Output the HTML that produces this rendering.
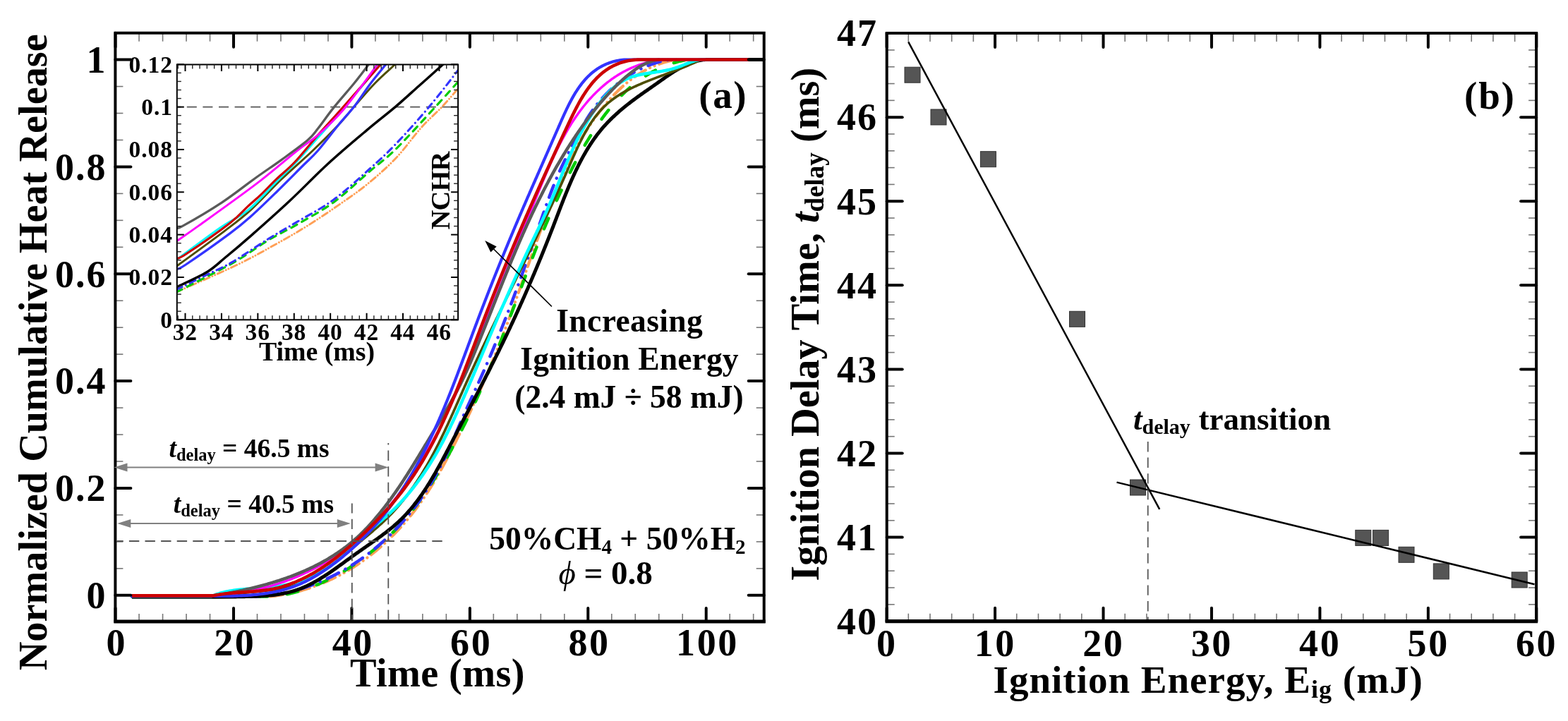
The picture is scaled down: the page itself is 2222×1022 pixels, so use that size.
<!DOCTYPE html>
<html><head><meta charset="utf-8"><title>Figure</title><style>html,body{margin:0;padding:0;background:#fff;overflow:hidden}svg{display:block}</style></head><body>
<svg width="2222" height="1022" viewBox="0 0 2222 1022" font-family="Liberation Serif, Times New Roman, serif" font-weight="bold">
<rect width="2222" height="1022" fill="#fff"/>
<g fill="none" stroke-linejoin="round">
<path d="M187,845.5 L330,845.5 L332.04,845.5 L334.09,845.5 L336.13,845.5 L338.17,845.5 L340.21,845.5 L342.25,845.5 L344.28,845.5 L346.32,845.5 L348.35,845.5 L350.38,845.5 L352.41,845.5 L354.44,845.5 L356.46,845.5 L358.49,845.5 L360.51,845.5 L362.53,845.5 L364.54,845.5 L366.56,845.5 L368.57,845.5 L370.58,845.5 L372.59,845.5 L374.59,845.5 L376.59,845.5 L378.59,845.5 L380.59,845.5 L382.58,845.49 L384.58,845.28 L386.56,845.05 L388.55,844.81 L390.53,844.55 L392.51,844.28 L394.49,843.99 L396.46,843.69 L398.43,843.37 L400.4,843.04 L402.36,842.69 L404.32,842.33 L406.28,841.95 L408.23,841.56 L410.18,841.16 L412.13,840.74 L414.07,840.3 L416.01,839.85 L417.94,839.39 L419.87,838.91 L421.8,838.42 L423.72,837.91 L425.64,837.39 L427.56,836.86 L429.47,836.31 L431.37,835.74 L433.28,835.17 L435.17,834.58 L437.07,833.97 L438.96,833.35 L440.84,832.72 L442.72,832.07 L444.6,831.41 L446.47,830.74 L448.33,830.05 L450.19,829.35 L452.05,828.64 L453.9,827.91 L455.75,827.17 L457.59,826.42 L459.43,825.65 L461.26,824.87 L463.08,824.07 L464.9,823.27 L466.72,822.45 L468.53,821.61 L470.33,820.77 L472.13,819.91 L473.93,819.04 L475.71,818.15 L477.49,817.26 L479.27,816.34 L481.04,815.42 L482.81,814.49 L484.56,813.54 L486.32,812.58 L488.06,811.6 L489.8,810.62 L491.54,809.62 L493.27,808.61 L494.99,807.59 L496.7,806.55 L498.41,805.51 L500.12,804.45 L501.81,803.38 L503.5,802.3 L505.19,801.2 L506.86,800.09 L508.53,798.98 L510.19,797.84 L511.85,796.7 L513.5,795.55 L515.14,794.38 L516.78,793.21 L518.4,792.02 L520.02,790.82 L521.64,789.61 L523.24,788.39 L524.84,787.16 L526.43,785.92 L528.02,784.67 L529.59,783.41 L531.16,782.14 L532.73,780.85 L534.28,779.56 L535.82,778.26 L537.36,776.95 L538.89,775.63 L540.41,774.3 L541.93,772.96 L543.44,771.61 L544.93,770.25 L546.42,768.89 L547.91,767.51 L549.38,766.13 L550.84,764.74 L552.3,763.34 L553.75,761.93 L555.19,760.51 L556.62,759.09 L558.04,757.66 L559.46,756.22 L560.86,754.77 L562.26,753.32 L563.64,751.85 L565.02,750.38 L566.39,748.91 L567.75,747.43 L569.1,745.94 L570.45,744.44 L571.78,742.94 L573.1,741.43 L574.42,739.91 L575.72,738.39 L577.02,736.86 L578.3,735.33 L579.58,733.79 L580.85,732.24 L582.1,730.69 L583.35,729.14 L584.59,727.57 L585.82,726.01 L587.03,724.44 L588.24,722.86 L589.44,721.28 L590.63,719.69 L591.81,718.1 L592.98,716.51 L594.14,714.91 L595.29,713.3 L596.43,711.69 L597.56,710.08 L598.69,708.46 L599.81,706.84 L600.92,705.21 L602.02,703.58 L603.11,701.94 L604.19,700.3 L605.27,698.66 L606.34,697.01 L607.4,695.36 L608.46,693.7 L609.51,692.04 L610.55,690.37 L611.58,688.7 L612.61,687.03 L613.63,685.35 L614.65,683.67 L615.66,681.99 L616.66,680.3 L617.66,678.6 L618.65,676.91 L619.64,675.21 L620.62,673.5 L621.59,671.79 L622.56,670.08 L623.53,668.37 L624.49,666.65 L625.45,664.93 L626.4,663.2 L627.35,661.47 L628.29,659.74 L629.23,658.01 L630.17,656.27 L631.1,654.53 L632.03,652.78 L632.96,651.03 L633.88,649.28 L634.8,647.53 L635.72,645.77 L636.63,644.01 L637.54,642.24 L638.45,640.48 L639.36,638.71 L640.26,636.94 L641.17,635.16 L642.07,633.38 L642.97,631.6 L643.86,629.82 L644.76,628.03 L645.66,626.24 L646.55,624.45 L647.44,622.66 L648.34,620.86 L649.23,619.06 L650.12,617.26 L651,615.46 L651.89,613.65 L652.78,611.85 L653.66,610.04 L654.55,608.22 L655.43,606.41 L656.31,604.59 L657.19,602.77 L658.07,600.95 L658.95,599.13 L659.82,597.3 L660.7,595.48 L661.57,593.65 L662.44,591.82 L663.31,589.99 L664.18,588.15 L665.04,586.32 L665.91,584.48 L666.77,582.64 L667.63,580.8 L668.49,578.95 L669.35,577.11 L670.2,575.27 L671.05,573.42 L671.91,571.57 L672.76,569.72 L673.6,567.87 L674.45,566.02 L675.29,564.16 L676.14,562.31 L676.98,560.45 L677.82,558.59 L678.65,556.74 L679.48,554.88 L680.32,553.02 L681.15,551.16 L681.97,549.29 L682.8,547.43 L683.62,545.57 L684.44,543.7 L685.26,541.83 L686.07,539.97 L686.89,538.1 L687.7,536.23 L688.51,534.37 L689.31,532.5 L690.12,530.63 L690.92,528.76 L691.72,526.89 L692.51,525.02 L693.31,523.14 L694.1,521.27 L694.88,519.4 L695.67,517.53 L696.45,515.66 L697.23,513.78 L698.01,511.91 L698.78,510.04 L699.55,508.16 L700.32,506.29 L701.09,504.42 L701.85,502.55 L702.61,500.67 L703.37,498.8 L704.12,496.93 L704.87,495.06 L705.62,493.18 L706.36,491.31 L707.1,489.44 L707.84,487.57 L708.58,485.7 L709.31,483.83 L710.04,481.96 L710.76,480.09 L711.49,478.22 L712.21,476.35 L712.92,474.48 L713.64,472.61 L714.35,470.75 L715.06,468.88 L715.77,467.01 L716.47,465.14 L717.17,463.28 L717.87,461.41 L718.57,459.54 L719.27,457.68 L719.96,455.81 L720.65,453.94 L721.34,452.08 L722.03,450.21 L722.71,448.35 L723.4,446.48 L724.08,444.62 L724.76,442.75 L725.44,440.89 L726.12,439.02 L726.79,437.16 L727.46,435.29 L728.14,433.43 L728.81,431.56 L729.48,429.7 L730.15,427.83 L730.81,425.97 L731.48,424.11 L732.14,422.24 L732.81,420.38 L733.47,418.51 L734.13,416.65 L734.8,414.78 L735.46,412.92 L736.12,411.06 L736.77,409.19 L737.43,407.33 L738.09,405.46 L738.75,403.6 L739.41,401.73 L740.06,399.87 L740.72,398 L741.38,396.14 L742.03,394.27 L742.69,392.41 L743.34,390.54 L744,388.68 L744.66,386.81 L745.31,384.94 L745.97,383.08 L746.63,381.21 L747.28,379.34 L747.94,377.48 L748.6,375.61 L749.26,373.74 L749.91,371.88 L750.57,370.01 L751.23,368.14 L751.9,366.27 L752.56,364.4 L753.22,362.53 L753.88,360.67 L754.55,358.8 L755.21,356.93 L755.88,355.06 L756.55,353.19 L757.21,351.31 L757.88,349.44 L758.56,347.57 L759.23,345.7 L759.9,343.83 L760.58,341.95 L761.26,340.08 L761.93,338.21 L762.62,336.33 L763.3,334.46 L763.98,332.58 L764.67,330.71 L765.36,328.83 L766.05,326.96 L766.74,325.08 L767.43,323.2 L768.13,321.32 L768.83,319.44 L769.53,317.56 L770.23,315.69 L770.93,313.8 L771.64,311.92 L772.35,310.04 L773.07,308.16 L773.78,306.28 L774.5,304.4 L775.22,302.51 L775.94,300.63 L776.67,298.74 L777.4,296.86 L778.13,294.97 L778.87,293.08 L779.61,291.2 L780.35,289.31 L781.1,287.43 L781.85,285.54 L782.6,283.65 L783.36,281.77 L784.12,279.88 L784.88,278 L785.65,276.11 L786.42,274.23 L787.19,272.35 L787.97,270.47 L788.76,268.59 L789.55,266.71 L790.34,264.83 L791.14,262.96 L791.94,261.08 L792.75,259.21 L793.56,257.34 L794.37,255.47 L795.19,253.61 L796.02,251.74 L796.85,249.88 L797.69,248.02 L798.53,246.17 L799.37,244.31 L800.23,242.46 L801.08,240.61 L801.95,238.77 L802.81,236.93 L803.69,235.09 L804.57,233.25 L805.45,231.42 L806.34,229.59 L807.24,227.77 L808.15,225.94 L809.06,224.13 L809.97,222.31 L810.9,220.5 L811.82,218.7 L812.76,216.9 L813.7,215.1 L814.65,213.31 L815.61,211.52 L816.57,209.74 L817.54,207.96 L818.52,206.19 L819.5,204.42 L820.49,202.66 L821.49,200.91 L822.49,199.15 L823.51,197.41 L824.53,195.67 L825.55,193.93 L826.59,192.21 L827.63,190.48 L828.68,188.77 L829.74,187.06 L830.81,185.35 L831.89,183.66 L832.97,181.97 L834.06,180.28 L835.16,178.61 L836.27,176.94 L837.39,175.27 L838.51,173.62 L839.65,171.97 L840.79,170.33 L841.94,168.7 L843.1,167.07 L844.27,165.45 L845.45,163.84 L846.64,162.24 L847.84,160.64 L849.05,159.06 L850.26,157.48 L851.49,155.91 L852.72,154.35 L853.97,152.8 L855.22,151.25 L856.49,149.72 L857.76,148.19 L859.05,146.68 L860.34,145.17 L861.65,143.67 L862.96,142.18 L864.29,140.7 L865.62,139.23 L866.97,137.77 L868.33,136.32 L869.69,134.88 L871.07,133.45 L872.46,132.04 L873.86,130.63 L875.27,129.24 L876.69,127.86 L878.13,126.49 L879.57,125.13 L881.03,123.79 L882.5,122.46 L883.98,121.15 L885.47,119.86 L886.97,118.57 L888.49,117.31 L890.02,116.06 L891.56,114.83 L893.11,113.61 L894.67,112.41 L896.25,111.23 L897.84,110.07 L899.44,108.93 L901.05,107.8 L902.68,106.7 L904.32,105.62 L905.97,104.55 L907.64,103.51 L909.32,102.49 L911.01,101.49 L912.72,100.51 L914.44,99.56 L916.17,98.62 L917.92,97.72 L919.68,96.83 L921.45,95.97 L923.24,95.13 L925.04,94.32 L926.86,93.54 L928.69,92.78 L930.54,92.05 L932.4,91.34 L934.27,90.66 L936.16,90.01 L938.06,89.39 L939.98,88.79 L941.91,88.22 L943.86,87.69 L945.83,87.18 L947.8,86.7 L949.8,86.26 L951.81,85.84 L953.83,85.45 L955.87,85.1 L957.93,84.78 L960,84.5" stroke="#ff9f55" stroke-width="4.2" stroke-linecap="round" stroke-dasharray="18 7 0.1 7 0.1 7"/>
<path d="M187,845.5 L330,845.5 L332.06,845.5 L334.12,845.5 L336.18,845.5 L338.23,845.5 L340.28,845.5 L342.33,845.5 L344.38,845.5 L346.43,845.5 L348.47,845.5 L350.51,845.5 L352.55,845.5 L354.58,845.5 L356.61,845.5 L358.64,845.5 L360.67,845.5 L362.69,845.5 L364.72,845.5 L366.73,845.5 L368.75,845.5 L370.76,845.5 L372.77,845.5 L374.77,845.5 L376.78,845.5 L378.78,845.5 L380.77,845.5 L382.76,845.5 L384.75,845.5 L386.74,845.5 L388.72,845.47 L390.7,845.19 L392.67,844.9 L394.65,844.59 L396.61,844.26 L398.58,843.91 L400.54,843.55 L402.49,843.17 L404.45,842.77 L406.4,842.36 L408.34,841.93 L410.28,841.49 L412.22,841.02 L414.15,840.55 L416.08,840.05 L418,839.54 L419.92,839.02 L421.84,838.48 L423.75,837.92 L425.66,837.35 L427.56,836.76 L429.46,836.16 L431.35,835.54 L433.24,834.91 L435.13,834.26 L437.01,833.6 L438.88,832.92 L440.75,832.23 L442.62,831.53 L444.48,830.81 L446.33,830.07 L448.19,829.32 L450.03,828.56 L451.87,827.78 L453.71,826.99 L455.54,826.19 L457.36,825.37 L459.18,824.54 L461,823.7 L462.81,822.84 L464.61,821.97 L466.41,821.09 L468.2,820.19 L469.99,819.28 L471.77,818.36 L473.55,817.43 L475.32,816.48 L477.09,815.52 L478.85,814.55 L480.6,813.57 L482.35,812.57 L484.09,811.57 L485.83,810.55 L487.56,809.52 L489.28,808.47 L491,807.42 L492.71,806.36 L494.42,805.28 L496.11,804.19 L497.81,803.09 L499.49,801.99 L501.17,800.87 L502.85,799.73 L504.52,798.59 L506.18,797.44 L507.83,796.28 L509.48,795.11 L511.12,793.93 L512.75,792.73 L514.38,791.53 L516,790.32 L517.62,789.1 L519.22,787.87 L520.82,786.63 L522.42,785.38 L524,784.12 L525.58,782.85 L527.15,781.57 L528.72,780.29 L530.28,778.99 L531.83,777.69 L533.37,776.38 L534.91,775.05 L536.43,773.73 L537.95,772.39 L539.47,771.04 L540.97,769.69 L542.47,768.33 L543.96,766.96 L545.44,765.58 L546.92,764.2 L548.39,762.81 L549.85,761.41 L551.3,760 L552.74,758.59 L554.18,757.17 L555.6,755.74 L557.02,754.31 L558.43,752.86 L559.84,751.42 L561.23,749.96 L562.62,748.5 L564,747.04 L565.36,745.56 L566.73,744.08 L568.08,742.6 L569.42,741.11 L570.76,739.61 L572.09,738.11 L573.4,736.6 L574.71,735.09 L576.02,733.57 L577.31,732.05 L578.59,730.52 L579.87,728.99 L581.13,727.45 L582.39,725.91 L583.64,724.36 L584.87,722.81 L586.1,721.25 L587.33,719.69 L588.54,718.13 L589.74,716.56 L590.94,714.99 L592.12,713.41 L593.3,711.82 L594.47,710.24 L595.64,708.65 L596.79,707.05 L597.94,705.45 L599.08,703.85 L600.21,702.24 L601.34,700.63 L602.46,699.01 L603.57,697.39 L604.68,695.77 L605.77,694.14 L606.86,692.51 L607.95,690.88 L609.03,689.24 L610.1,687.59 L611.17,685.95 L612.23,684.3 L613.28,682.64 L614.33,680.98 L615.37,679.32 L616.41,677.66 L617.44,675.99 L618.47,674.31 L619.49,672.64 L620.51,670.96 L621.52,669.27 L622.53,667.59 L623.53,665.9 L624.53,664.2 L625.53,662.51 L626.52,660.8 L627.5,659.1 L628.48,657.39 L629.46,655.68 L630.44,653.97 L631.41,652.25 L632.37,650.53 L633.34,648.81 L634.3,647.08 L635.26,645.35 L636.21,643.62 L637.16,641.89 L638.11,640.15 L639.06,638.41 L640.01,636.66 L640.95,634.92 L641.89,633.17 L642.83,631.41 L643.76,629.66 L644.7,627.9 L645.63,626.14 L646.56,624.37 L647.49,622.61 L648.42,620.84 L649.34,619.07 L650.26,617.29 L651.19,615.51 L652.11,613.73 L653.02,611.95 L653.94,610.17 L654.85,608.38 L655.76,606.59 L656.66,604.8 L657.57,603.01 L658.47,601.21 L659.37,599.41 L660.26,597.61 L661.15,595.81 L662.04,594 L662.93,592.19 L663.81,590.38 L664.68,588.57 L665.56,586.76 L666.43,584.94 L667.3,583.13 L668.16,581.31 L669.02,579.48 L669.88,577.66 L670.73,575.83 L671.58,574.01 L672.43,572.18 L673.27,570.35 L674.11,568.51 L674.95,566.68 L675.78,564.84 L676.61,563.01 L677.44,561.17 L678.26,559.32 L679.09,557.48 L679.9,555.64 L680.72,553.79 L681.53,551.94 L682.34,550.1 L683.15,548.25 L683.96,546.39 L684.76,544.54 L685.56,542.69 L686.36,540.83 L687.15,538.97 L687.94,537.12 L688.73,535.26 L689.52,533.4 L690.3,531.53 L691.08,529.67 L691.86,527.81 L692.64,525.94 L693.41,524.08 L694.19,522.21 L694.96,520.34 L695.73,518.47 L696.49,516.6 L697.26,514.73 L698.02,512.86 L698.78,510.99 L699.54,509.12 L700.29,507.24 L701.05,505.37 L701.8,503.49 L702.55,501.62 L703.3,499.74 L704.05,497.86 L704.79,495.98 L705.53,494.11 L706.28,492.23 L707.02,490.35 L707.76,488.47 L708.49,486.59 L709.23,484.71 L709.96,482.83 L710.7,480.94 L711.43,479.06 L712.16,477.18 L712.89,475.3 L713.61,473.41 L714.34,471.53 L715.07,469.65 L715.79,467.76 L716.51,465.88 L717.24,464 L717.96,462.11 L718.68,460.23 L719.4,458.34 L720.12,456.46 L720.83,454.57 L721.55,452.69 L722.26,450.8 L722.98,448.92 L723.69,447.03 L724.41,445.15 L725.12,443.26 L725.83,441.38 L726.54,439.49 L727.26,437.61 L727.97,435.72 L728.68,433.84 L729.39,431.96 L730.1,430.07 L730.8,428.19 L731.51,426.3 L732.22,424.42 L732.93,422.53 L733.64,420.65 L734.35,418.77 L735.05,416.88 L735.76,415 L736.47,413.12 L737.18,411.24 L737.88,409.35 L738.59,407.47 L739.3,405.59 L740.01,403.71 L740.71,401.83 L741.42,399.95 L742.13,398.07 L742.84,396.19 L743.55,394.31 L744.26,392.43 L744.97,390.56 L745.68,388.68 L746.39,386.8 L747.1,384.93 L747.81,383.05 L748.52,381.18 L749.24,379.3 L749.95,377.43 L750.66,375.56 L751.38,373.69 L752.1,371.81 L752.81,369.94 L753.53,368.07 L754.25,366.2 L754.97,364.34 L755.69,362.47 L756.42,360.6 L757.14,358.74 L757.87,356.87 L758.6,355.01 L759.33,353.14 L760.06,351.28 L760.8,349.42 L761.54,347.56 L762.28,345.7 L763.02,343.84 L763.76,341.99 L764.51,340.13 L765.26,338.27 L766.01,336.42 L766.77,334.57 L767.53,332.71 L768.29,330.86 L769.05,329.01 L769.82,327.16 L770.59,325.32 L771.37,323.47 L772.15,321.63 L772.93,319.78 L773.71,317.94 L774.5,316.1 L775.3,314.26 L776.09,312.42 L776.89,310.58 L777.7,308.75 L778.5,306.91 L779.31,305.08 L780.12,303.25 L780.94,301.41 L781.76,299.59 L782.58,297.76 L783.4,295.93 L784.23,294.11 L785.06,292.28 L785.89,290.46 L786.72,288.64 L787.55,286.82 L788.39,285.01 L789.23,283.19 L790.07,281.38 L790.91,279.57 L791.76,277.76 L792.6,275.95 L793.45,274.14 L794.3,272.34 L795.15,270.53 L796,268.73 L796.86,266.93 L797.72,265.13 L798.58,263.34 L799.44,261.54 L800.31,259.75 L801.17,257.96 L802.05,256.17 L802.92,254.38 L803.8,252.6 L804.68,250.81 L805.56,249.03 L806.45,247.25 L807.34,245.48 L808.24,243.7 L809.14,241.93 L810.04,240.16 L810.95,238.39 L811.86,236.62 L812.77,234.86 L813.69,233.1 L814.62,231.33 L815.55,229.58 L816.48,227.82 L817.42,226.07 L818.36,224.32 L819.31,222.57 L820.27,220.82 L821.23,219.07 L822.19,217.33 L823.16,215.59 L824.14,213.85 L825.12,212.12 L826.11,210.38 L827.1,208.65 L828.1,206.93 L829.11,205.2 L830.12,203.48 L831.14,201.76 L832.17,200.04 L833.2,198.32 L834.25,196.61 L835.29,194.9 L836.35,193.19 L837.41,191.49 L838.48,189.79 L839.55,188.09 L840.64,186.4 L841.73,184.71 L842.83,183.03 L843.94,181.35 L845.05,179.68 L846.18,178.01 L847.31,176.35 L848.45,174.69 L849.6,173.05 L850.76,171.4 L851.92,169.77 L853.1,168.14 L854.28,166.52 L855.47,164.9 L856.68,163.3 L857.89,161.7 L859.11,160.11 L860.34,158.53 L861.58,156.96 L862.83,155.39 L864.09,153.84 L865.36,152.3 L866.64,150.76 L867.93,149.24 L869.23,147.72 L870.54,146.22 L871.86,144.73 L873.2,143.25 L874.54,141.78 L875.89,140.32 L877.26,138.87 L878.64,137.44 L880.02,136.02 L881.42,134.61 L882.83,133.21 L884.25,131.83 L885.69,130.46 L887.13,129.1 L888.59,127.76 L890.06,126.44 L891.54,125.12 L893.04,123.82 L894.54,122.54 L896.06,121.27 L897.59,120.02 L899.14,118.78 L900.7,117.56 L902.27,116.36 L903.85,115.17 L905.44,114 L907.05,112.85 L908.67,111.71 L910.31,110.59 L911.95,109.49 L913.61,108.41 L915.28,107.34 L916.97,106.3 L918.66,105.27 L920.37,104.26 L922.09,103.27 L923.82,102.3 L925.57,101.35 L927.32,100.42 L929.09,99.52 L930.87,98.63 L932.67,97.76 L934.47,96.91 L936.29,96.09 L938.11,95.29 L939.95,94.51 L941.81,93.75 L943.67,93.01 L945.54,92.3 L947.43,91.61 L949.33,90.94 L951.23,90.29 L953.15,89.67 L955.08,89.08 L957.03,88.51 L958.98,87.96 L960.94,87.44 L962.92,86.94 L964.91,86.47 L966.9,86.02 L968.91,85.6 L970.93,85.2 L972.96,84.83 L975,84.5" stroke="#00cc00" stroke-width="4.5" stroke-linecap="round" stroke-dasharray="16 28"/>
<path d="M187,845.5 L330,845.5 L332.04,845.5 L334.08,845.5 L336.12,845.5 L338.16,845.5 L340.19,845.5 L342.23,845.5 L344.26,845.5 L346.29,845.5 L348.32,845.5 L350.34,845.5 L352.36,845.5 L354.39,845.5 L356.41,845.5 L358.42,845.5 L360.44,845.5 L362.45,845.5 L364.46,845.5 L366.47,845.5 L368.47,845.5 L370.47,845.4 L372.47,845.23 L374.47,845.04 L376.46,844.83 L378.46,844.61 L380.44,844.38 L382.43,844.13 L384.41,843.86 L386.39,843.58 L388.37,843.28 L390.34,842.97 L392.31,842.65 L394.28,842.31 L396.24,841.95 L398.2,841.58 L400.16,841.2 L402.11,840.8 L404.06,840.39 L406.01,839.96 L407.95,839.52 L409.89,839.06 L411.83,838.59 L413.76,838.1 L415.69,837.6 L417.61,837.09 L419.53,836.57 L421.45,836.02 L423.36,835.47 L425.26,834.9 L427.17,834.32 L429.07,833.73 L430.96,833.12 L432.85,832.5 L434.74,831.86 L436.62,831.21 L438.5,830.55 L440.37,829.88 L442.24,829.19 L444.1,828.49 L445.96,827.78 L447.81,827.05 L449.66,826.31 L451.51,825.56 L453.34,824.79 L455.18,824.02 L457.01,823.23 L458.83,822.43 L460.65,821.61 L462.46,820.79 L464.27,819.95 L466.07,819.1 L467.87,818.23 L469.66,817.36 L471.45,816.47 L473.23,815.58 L475.01,814.67 L476.78,813.74 L478.54,812.81 L480.3,811.87 L482.05,810.91 L483.8,809.94 L485.54,808.96 L487.27,807.97 L489,806.97 L490.72,805.96 L492.44,804.94 L494.15,803.9 L495.85,802.86 L497.55,801.8 L499.24,800.74 L500.92,799.66 L502.6,798.57 L504.27,797.47 L505.94,796.36 L507.6,795.25 L509.25,794.12 L510.89,792.98 L512.53,791.83 L514.16,790.67 L515.79,789.5 L517.4,788.32 L519.01,787.13 L520.62,785.93 L522.21,784.72 L523.8,783.5 L525.38,782.27 L526.96,781.03 L528.52,779.78 L530.08,778.53 L531.63,777.26 L533.18,775.99 L534.71,774.7 L536.24,773.41 L537.76,772.11 L539.28,770.79 L540.78,769.47 L542.28,768.14 L543.77,766.81 L545.25,765.46 L546.73,764.1 L548.19,762.74 L549.65,761.37 L551.1,759.99 L552.54,758.6 L553.97,757.2 L555.4,755.8 L556.82,754.38 L558.22,752.96 L559.62,751.53 L561.01,750.1 L562.39,748.65 L563.77,747.2 L565.13,745.74 L566.49,744.27 L567.83,742.79 L569.17,741.31 L570.5,739.82 L571.82,738.32 L573.13,736.82 L574.44,735.31 L575.73,733.79 L577.01,732.26 L578.29,730.73 L579.56,729.19 L580.81,727.64 L582.06,726.09 L583.3,724.53 L584.53,722.96 L585.76,721.39 L586.97,719.81 L588.18,718.23 L589.38,716.63 L590.56,715.04 L591.74,713.43 L592.92,711.82 L594.08,710.2 L595.23,708.58 L596.38,706.95 L597.52,705.32 L598.64,703.68 L599.76,702.03 L600.88,700.38 L601.98,698.73 L603.08,697.06 L604.16,695.4 L605.24,693.72 L606.31,692.05 L607.37,690.36 L608.43,688.68 L609.47,686.98 L610.51,685.28 L611.54,683.58 L612.56,681.87 L613.57,680.16 L614.58,678.44 L615.57,676.72 L616.56,675 L617.54,673.27 L618.52,671.53 L619.48,669.79 L620.44,668.05 L621.39,666.3 L622.33,664.55 L623.26,662.79 L624.18,661.04 L625.1,659.27 L626.01,657.5 L626.91,655.73 L627.8,653.96 L628.69,652.18 L629.57,650.4 L630.44,648.62 L631.3,646.83 L632.16,645.04 L633,643.24 L633.85,641.44 L634.68,639.64 L635.52,637.84 L636.34,636.03 L637.17,634.22 L637.98,632.41 L638.8,630.59 L639.61,628.78 L640.41,626.96 L641.22,625.13 L642.02,623.31 L642.82,621.48 L643.61,619.65 L644.41,617.82 L645.2,615.98 L646,614.15 L646.79,612.31 L647.58,610.47 L648.38,608.63 L649.17,606.78 L649.97,604.94 L650.76,603.09 L651.56,601.24 L652.36,599.39 L653.17,597.54 L653.97,595.68 L654.78,593.83 L655.6,591.97 L656.41,590.12 L657.24,588.26 L658.06,586.4 L658.89,584.54 L659.73,582.68 L660.56,580.82 L661.4,578.96 L662.25,577.1 L663.09,575.23 L663.94,573.37 L664.79,571.5 L665.65,569.64 L666.5,567.78 L667.35,565.91 L668.21,564.05 L669.07,562.18 L669.92,560.32 L670.78,558.45 L671.64,556.59 L672.49,554.72 L673.35,552.86 L674.2,550.99 L675.06,549.13 L675.91,547.27 L676.76,545.4 L677.61,543.54 L678.45,541.68 L679.29,539.82 L680.13,537.96 L680.97,536.1 L681.8,534.25 L682.63,532.39 L683.46,530.53 L684.28,528.68 L685.1,526.82 L685.92,524.97 L686.73,523.12 L687.54,521.27 L688.35,519.42 L689.16,517.57 L689.96,515.72 L690.76,513.87 L691.56,512.02 L692.35,510.17 L693.14,508.32 L693.93,506.48 L694.71,504.63 L695.5,502.79 L696.28,500.94 L697.05,499.1 L697.83,497.25 L698.6,495.41 L699.37,493.57 L700.14,491.72 L700.9,489.88 L701.66,488.04 L702.42,486.2 L703.18,484.36 L703.94,482.51 L704.69,480.67 L705.44,478.83 L706.19,476.99 L706.93,475.15 L707.67,473.31 L708.42,471.47 L709.15,469.63 L709.89,467.79 L710.63,465.95 L711.36,464.11 L712.09,462.28 L712.82,460.44 L713.54,458.6 L714.27,456.76 L714.99,454.92 L715.71,453.08 L716.43,451.24 L717.14,449.4 L717.86,447.56 L718.57,445.72 L719.28,443.88 L719.99,442.04 L720.7,440.2 L721.4,438.36 L722.11,436.52 L722.81,434.68 L723.51,432.84 L724.21,430.99 L724.9,429.15 L725.6,427.31 L726.29,425.47 L726.99,423.62 L727.68,421.78 L728.37,419.94 L729.06,418.09 L729.74,416.25 L730.43,414.4 L731.11,412.55 L731.8,410.71 L732.48,408.86 L733.16,407.01 L733.84,405.16 L734.52,403.32 L735.19,401.47 L735.87,399.62 L736.54,397.76 L737.22,395.91 L737.89,394.06 L738.56,392.21 L739.23,390.35 L739.9,388.5 L740.57,386.64 L741.24,384.78 L741.9,382.93 L742.57,381.07 L743.23,379.21 L743.9,377.35 L744.56,375.49 L745.23,373.62 L745.89,371.76 L746.55,369.9 L747.21,368.03 L747.87,366.16 L748.53,364.3 L749.19,362.43 L749.85,360.56 L750.51,358.69 L751.16,356.81 L751.82,354.94 L752.48,353.07 L753.13,351.19 L753.79,349.31 L754.44,347.43 L755.1,345.56 L755.75,343.67 L756.41,341.79 L757.06,339.91 L757.72,338.02 L758.37,336.14 L759.03,334.25 L759.68,332.36 L760.33,330.47 L760.99,328.57 L761.64,326.68 L762.29,324.78 L762.95,322.89 L763.6,320.99 L764.26,319.09 L764.91,317.18 L765.56,315.28 L766.22,313.38 L766.88,311.47 L767.53,309.56 L768.19,307.65 L768.85,305.75 L769.52,303.84 L770.18,301.93 L770.85,300.01 L771.52,298.1 L772.19,296.19 L772.86,294.28 L773.54,292.37 L774.22,290.46 L774.9,288.54 L775.59,286.63 L776.29,284.72 L776.98,282.81 L777.68,280.9 L778.39,278.99 L779.1,277.08 L779.81,275.18 L780.54,273.27 L781.26,271.36 L781.99,269.46 L782.73,267.56 L783.48,265.66 L784.23,263.76 L784.98,261.86 L785.75,259.96 L786.52,258.07 L787.3,256.17 L788.08,254.28 L788.88,252.4 L789.68,250.51 L790.49,248.63 L791.3,246.75 L792.13,244.87 L792.97,242.99 L793.81,241.12 L794.66,239.25 L795.53,237.39 L796.4,235.52 L797.28,233.66 L798.16,231.81 L799.06,229.95 L799.96,228.11 L800.87,226.26 L801.78,224.42 L802.69,222.58 L803.62,220.75 L804.54,218.92 L805.47,217.1 L806.4,215.28 L807.33,213.46 L808.27,211.65 L809.21,209.84 L810.14,208.04 L811.08,206.25 L812.01,204.46 L812.95,202.67 L813.88,200.89 L814.81,199.12 L815.74,197.35 L816.66,195.58 L817.59,193.82 L818.51,192.07 L819.43,190.33 L820.35,188.59 L821.27,186.85 L822.2,185.13 L823.13,183.4 L824.07,181.69 L825.01,179.98 L825.96,178.28 L826.91,176.59 L827.88,174.9 L828.85,173.22 L829.84,171.55 L830.84,169.88 L831.85,168.23 L832.88,166.58 L833.92,164.93 L834.98,163.3 L836.06,161.67 L837.15,160.05 L838.26,158.44 L839.39,156.84 L840.53,155.25 L841.69,153.67 L842.87,152.09 L844.07,150.53 L845.28,148.98 L846.51,147.43 L847.75,145.9 L849.01,144.38 L850.29,142.87 L851.58,141.37 L852.89,139.89 L854.21,138.41 L855.55,136.95 L856.91,135.5 L858.28,134.07 L859.66,132.65 L861.07,131.24 L862.48,129.85 L863.91,128.47 L865.36,127.1 L866.82,125.75 L868.29,124.42 L869.78,123.1 L871.29,121.79 L872.81,120.51 L874.34,119.24 L875.89,117.98 L877.45,116.74 L879.02,115.52 L880.61,114.32 L882.21,113.14 L883.83,111.97 L885.45,110.82 L887.1,109.69 L888.75,108.58 L890.42,107.49 L892.1,106.42 L893.79,105.37 L895.5,104.33 L897.22,103.32 L898.95,102.33 L900.69,101.36 L902.45,100.42 L904.22,99.49 L906,98.58 L907.79,97.7 L909.6,96.84 L911.41,96 L913.24,95.19 L915.08,94.4 L916.93,93.63 L918.79,92.89 L920.66,92.17 L922.54,91.48 L924.44,90.81 L926.34,90.16 L928.26,89.54 L930.18,88.95 L932.12,88.38 L934.07,87.84 L936.02,87.33 L937.99,86.84 L939.97,86.38 L941.96,85.95 L943.95,85.54 L945.96,85.17 L947.98,84.82 L950,84.5" stroke="#3333ff" stroke-width="4.5" stroke-linecap="round" stroke-dasharray="18 11 0.1 11"/>
<path d="M187,846.3 L301.6,846.3 L330,846 L332.06,845.95 L334.12,845.91 L336.18,845.87 L338.24,845.83 L340.3,845.79 L342.35,845.75 L344.4,845.71 L346.46,845.67 L348.5,845.62 L350.55,845.58 L352.59,845.53 L354.64,845.47 L356.67,845.41 L358.71,845.35 L360.74,845.28 L362.77,845.2 L364.79,845.11 L366.81,845.02 L368.83,844.92 L370.84,844.8 L372.85,844.68 L374.85,844.54 L376.85,844.39 L378.84,844.24 L380.83,844.06 L382.82,843.87 L384.79,843.67 L386.77,843.45 L388.73,843.22 L390.69,842.97 L392.65,842.7 L394.6,842.42 L396.54,842.11 L398.47,841.78 L400.4,841.44 L402.32,841.07 L404.24,840.68 L406.14,840.27 L408.04,839.84 L409.93,839.38 L411.81,838.9 L413.69,838.39 L415.56,837.86 L417.41,837.3 L419.26,836.71 L421.1,836.09 L422.94,835.45 L424.76,834.78 L426.57,834.08 L428.38,833.35 L430.18,832.6 L431.97,831.82 L433.75,831.02 L435.53,830.19 L437.3,829.35 L439.06,828.48 L440.81,827.59 L442.56,826.67 L444.3,825.74 L446.04,824.79 L447.77,823.82 L449.49,822.83 L451.21,821.82 L452.92,820.8 L454.63,819.76 L456.33,818.71 L458.03,817.64 L459.73,816.56 L461.42,815.46 L463.1,814.36 L464.79,813.24 L466.47,812.11 L468.14,810.97 L469.81,809.82 L471.48,808.66 L473.15,807.5 L474.82,806.33 L476.48,805.15 L478.14,803.96 L479.8,802.77 L481.46,801.57 L483.11,800.38 L484.77,799.17 L486.42,797.97 L488.08,796.76 L489.73,795.56 L491.38,794.35 L493.04,793.14 L494.69,791.94 L496.34,790.74 L498,789.53 L499.65,788.34 L501.31,787.14 L502.97,785.96 L504.63,784.77 L506.29,783.6 L507.95,782.42 L509.61,781.25 L511.28,780.09 L512.94,778.93 L514.6,777.77 L516.26,776.62 L517.92,775.46 L519.58,774.31 L521.23,773.16 L522.89,772.01 L524.54,770.86 L526.18,769.71 L527.83,768.55 L529.47,767.4 L531.1,766.24 L532.73,765.08 L534.36,763.92 L535.97,762.76 L537.59,761.59 L539.19,760.41 L540.79,759.23 L542.39,758.05 L543.97,756.86 L545.55,755.66 L547.12,754.46 L548.68,753.25 L550.23,752.03 L551.77,750.8 L553.3,749.56 L554.82,748.32 L556.33,747.06 L557.83,745.79 L559.32,744.51 L560.8,743.22 L562.26,741.92 L563.71,740.61 L565.15,739.28 L566.58,737.94 L567.99,736.58 L569.39,735.21 L570.77,733.83 L572.14,732.43 L573.5,731.02 L574.84,729.6 L576.17,728.16 L577.49,726.71 L578.79,725.25 L580.09,723.77 L581.37,722.29 L582.64,720.79 L583.9,719.28 L585.14,717.75 L586.38,716.22 L587.6,714.67 L588.81,713.12 L590.02,711.55 L591.21,709.98 L592.39,708.39 L593.56,706.79 L594.73,705.19 L595.88,703.57 L597.02,701.95 L598.16,700.31 L599.28,698.67 L600.4,697.02 L601.51,695.36 L602.61,693.69 L603.7,692.01 L604.78,690.33 L605.86,688.64 L606.93,686.94 L607.99,685.24 L609.04,683.53 L610.09,681.81 L611.13,680.08 L612.16,678.35 L613.19,676.62 L614.21,674.88 L615.23,673.13 L616.24,671.38 L617.25,669.62 L618.25,667.86 L619.24,666.09 L620.23,664.32 L621.22,662.55 L622.2,660.77 L623.18,658.99 L624.15,657.21 L625.12,655.42 L626.09,653.63 L627.05,651.84 L628.01,650.04 L628.97,648.25 L629.92,646.45 L630.88,644.65 L631.83,642.84 L632.78,641.04 L633.72,639.24 L634.67,637.43 L635.61,635.63 L636.55,633.82 L637.49,632.01 L638.43,630.21 L639.37,628.4 L640.31,626.6 L641.25,624.8 L642.19,622.99 L643.13,621.19 L644.07,619.39 L645.01,617.59 L645.95,615.79 L646.88,614 L647.82,612.2 L648.76,610.4 L649.7,608.61 L650.64,606.81 L651.58,605.02 L652.51,603.23 L653.45,601.44 L654.39,599.65 L655.33,597.86 L656.26,596.07 L657.2,594.28 L658.13,592.49 L659.07,590.7 L660.01,588.91 L660.94,587.13 L661.87,585.34 L662.81,583.56 L663.74,581.77 L664.67,579.99 L665.6,578.21 L666.53,576.42 L667.47,574.64 L668.4,572.86 L669.32,571.08 L670.25,569.29 L671.18,567.51 L672.11,565.73 L673.03,563.95 L673.96,562.17 L674.88,560.39 L675.81,558.61 L676.73,556.83 L677.65,555.05 L678.57,553.28 L679.49,551.5 L680.41,549.72 L681.33,547.94 L682.25,546.16 L683.16,544.38 L684.08,542.6 L684.99,540.83 L685.9,539.05 L686.81,537.27 L687.72,535.49 L688.63,533.71 L689.54,531.93 L690.45,530.16 L691.35,528.38 L692.26,526.6 L693.16,524.82 L694.06,523.04 L694.96,521.26 L695.86,519.48 L696.75,517.7 L697.65,515.92 L698.54,514.14 L699.44,512.36 L700.33,510.58 L701.22,508.79 L702.1,507.01 L702.99,505.23 L703.88,503.45 L704.76,501.66 L705.64,499.88 L706.52,498.09 L707.4,496.31 L708.27,494.52 L709.15,492.74 L710.02,490.95 L710.89,489.16 L711.76,487.38 L712.63,485.59 L713.49,483.8 L714.36,482.01 L715.22,480.22 L716.08,478.42 L716.94,476.63 L717.79,474.84 L718.65,473.05 L719.5,471.25 L720.35,469.46 L721.2,467.66 L722.05,465.86 L722.89,464.07 L723.74,462.27 L724.58,460.47 L725.42,458.67 L726.26,456.87 L727.1,455.07 L727.93,453.26 L728.77,451.46 L729.6,449.65 L730.43,447.85 L731.26,446.04 L732.09,444.24 L732.91,442.43 L733.74,440.62 L734.56,438.81 L735.38,437 L736.2,435.18 L737.02,433.37 L737.83,431.56 L738.65,429.74 L739.46,427.93 L740.27,426.11 L741.08,424.29 L741.89,422.47 L742.7,420.65 L743.5,418.83 L744.31,417 L745.11,415.18 L745.91,413.35 L746.71,411.53 L747.51,409.7 L748.3,407.87 L749.1,406.04 L749.89,404.21 L750.68,402.38 L751.47,400.54 L752.26,398.71 L753.05,396.87 L753.83,395.03 L754.62,393.19 L755.4,391.35 L756.18,389.51 L756.96,387.67 L757.74,385.83 L758.52,383.98 L759.29,382.13 L760.07,380.28 L760.84,378.43 L761.61,376.58 L762.38,374.73 L763.15,372.88 L763.92,371.02 L764.68,369.16 L765.45,367.3 L766.21,365.44 L766.97,363.58 L767.73,361.72 L768.49,359.85 L769.25,357.99 L770,356.12 L770.76,354.25 L771.51,352.38 L772.27,350.51 L773.02,348.63 L773.77,346.76 L774.52,344.88 L775.26,343 L776.01,341.12 L776.76,339.24 L777.5,337.35 L778.24,335.47 L778.98,333.58 L779.72,331.69 L780.46,329.8 L781.2,327.91 L781.94,326.01 L782.67,324.12 L783.41,322.22 L784.14,320.32 L784.87,318.42 L785.6,316.51 L786.33,314.61 L787.06,312.7 L787.79,310.8 L788.52,308.89 L789.25,306.98 L789.98,305.07 L790.71,303.16 L791.44,301.25 L792.17,299.34 L792.9,297.43 L793.63,295.52 L794.37,293.61 L795.11,291.7 L795.85,289.8 L796.59,287.89 L797.33,285.99 L798.08,284.08 L798.82,282.18 L799.58,280.28 L800.33,278.39 L801.09,276.49 L801.85,274.6 L802.62,272.71 L803.39,270.82 L804.16,268.94 L804.94,267.06 L805.72,265.18 L806.51,263.31 L807.3,261.44 L808.1,259.57 L808.91,257.71 L809.72,255.85 L810.53,254 L811.35,252.15 L812.18,250.31 L813.02,248.47 L813.86,246.63 L814.7,244.81 L815.56,242.98 L816.42,241.17 L817.29,239.36 L818.17,237.55 L819.06,235.75 L819.95,233.96 L820.85,232.18 L821.77,230.4 L822.69,228.63 L823.61,226.86 L824.55,225.11 L825.5,223.36 L826.46,221.62 L827.43,219.89 L828.4,218.16 L829.39,216.45 L830.39,214.74 L831.4,213.04 L832.42,211.35 L833.45,209.67 L834.49,208 L835.55,206.34 L836.61,204.69 L837.69,203.04 L838.78,201.41 L839.88,199.79 L841,198.18 L842.12,196.58 L843.26,194.99 L844.42,193.41 L845.58,191.84 L846.76,190.28 L847.96,188.74 L849.17,187.21 L850.39,185.69 L851.63,184.18 L852.88,182.68 L854.15,181.2 L855.43,179.72 L856.73,178.27 L858.04,176.82 L859.36,175.38 L860.7,173.96 L862.06,172.55 L863.42,171.15 L864.8,169.76 L866.19,168.38 L867.6,167.02 L869.02,165.66 L870.45,164.31 L871.89,162.98 L873.34,161.65 L874.8,160.34 L876.28,159.03 L877.76,157.73 L879.25,156.44 L880.76,155.16 L882.27,153.89 L883.8,152.63 L885.33,151.38 L886.87,150.13 L888.42,148.89 L889.98,147.66 L891.55,146.44 L893.12,145.22 L894.7,144.01 L896.29,142.81 L897.89,141.62 L899.49,140.43 L901.1,139.24 L902.71,138.07 L904.33,136.89 L905.96,135.72 L907.59,134.56 L909.22,133.39 L910.86,132.23 L912.51,131.07 L914.16,129.91 L915.81,128.76 L917.46,127.6 L919.12,126.44 L920.78,125.28 L922.45,124.12 L924.11,122.96 L925.78,121.79 L927.45,120.62 L929.12,119.45 L930.79,118.27 L932.46,117.09 L934.14,115.9 L935.81,114.72 L937.49,113.53 L939.17,112.34 L940.85,111.15 L942.54,109.97 L944.22,108.8 L945.91,107.63 L947.61,106.48 L949.31,105.33 L951.01,104.2 L952.72,103.08 L954.44,101.98 L956.15,100.89 L957.88,99.83 L959.61,98.78 L961.35,97.76 L963.1,96.77 L964.85,95.8 L966.61,94.85 L968.38,93.94 L970.15,93.06 L971.94,92.21 L973.73,91.39 L975.54,90.61 L977.35,89.87 L979.17,89.17 L981.01,88.5 L982.85,87.88 L984.71,87.31 L986.58,86.78 L988.45,86.3 L990.35,85.87 L992.25,85.48 L994.17,85.15 L996.1,84.88 L998.04,84.66 L1000,84.5 L1082,84.5" stroke="#000000" stroke-width="5.0" />
<path d="M187,845 L320,845 L321.95,844.54 L323.91,844.1 L325.88,843.69 L327.85,843.29 L329.83,842.91 L331.82,842.56 L333.81,842.22 L335.8,841.9 L337.8,841.59 L339.8,841.3 L341.81,841.02 L343.82,840.75 L345.84,840.5 L347.85,840.25 L349.87,840.01 L351.89,839.79 L353.91,839.56 L355.94,839.35 L357.96,839.14 L359.99,838.93 L362.01,838.73 L364.04,838.53 L366.06,838.32 L368.09,838.12 L370.11,837.92 L372.13,837.71 L374.15,837.5 L376.16,837.28 L378.18,837.06 L380.19,836.83 L382.19,836.6 L384.2,836.35 L386.19,836.1 L388.19,835.83 L390.18,835.55 L392.16,835.26 L394.14,834.95 L396.11,834.63 L398.07,834.29 L400.03,833.93 L401.98,833.56 L403.93,833.16 L405.86,832.75 L407.79,832.31 L409.71,831.85 L411.62,831.36 L413.52,830.85 L415.41,830.32 L417.29,829.75 L419.16,829.16 L421.02,828.54 L422.87,827.89 L424.7,827.21 L426.53,826.49 L428.34,825.75 L430.15,824.99 L431.94,824.19 L433.72,823.37 L435.5,822.52 L437.26,821.65 L439.02,820.75 L440.76,819.83 L442.5,818.89 L444.23,817.92 L445.95,816.94 L447.66,815.93 L449.36,814.9 L451.05,813.86 L452.74,812.79 L454.42,811.71 L456.09,810.61 L457.75,809.49 L459.41,808.36 L461.06,807.21 L462.7,806.05 L464.34,804.88 L465.97,803.69 L467.6,802.49 L469.22,801.28 L470.83,800.06 L472.44,798.83 L474.04,797.59 L475.64,796.34 L477.23,795.09 L478.82,793.83 L480.4,792.56 L481.98,791.28 L483.56,790 L485.13,788.72 L486.7,787.44 L488.27,786.15 L489.83,784.86 L491.39,783.57 L492.94,782.28 L494.5,780.99 L496.05,779.7 L497.6,778.41 L499.15,777.12 L500.69,775.84 L502.24,774.56 L503.78,773.29 L505.32,772.02 L506.86,770.75 L508.4,769.48 L509.93,768.22 L511.47,766.96 L513,765.7 L514.52,764.44 L516.05,763.17 L517.57,761.91 L519.08,760.65 L520.6,759.39 L522.11,758.12 L523.61,756.86 L525.11,755.59 L526.61,754.31 L528.11,753.04 L529.59,751.75 L531.08,750.47 L532.56,749.18 L534.03,747.88 L535.5,746.58 L536.96,745.27 L538.42,743.96 L539.87,742.64 L541.31,741.31 L542.75,739.97 L544.18,738.62 L545.61,737.26 L547.03,735.9 L548.44,734.52 L549.85,733.14 L551.24,731.74 L552.64,730.33 L554.02,728.91 L555.39,727.48 L556.76,726.03 L558.12,724.57 L559.47,723.1 L560.81,721.61 L562.14,720.11 L563.47,718.6 L564.79,717.08 L566.09,715.54 L567.39,714 L568.69,712.44 L569.97,710.87 L571.24,709.29 L572.51,707.7 L573.76,706.1 L575.01,704.5 L576.25,702.88 L577.48,701.25 L578.7,699.62 L579.92,697.98 L581.12,696.33 L582.32,694.67 L583.5,693.01 L584.68,691.34 L585.85,689.66 L587.01,687.98 L588.16,686.29 L589.3,684.6 L590.43,682.9 L591.55,681.2 L592.67,679.5 L593.77,677.79 L594.86,676.08 L595.95,674.36 L597.03,672.64 L598.09,670.92 L599.15,669.2 L600.2,667.48 L601.24,665.75 L602.27,664.02 L603.3,662.29 L604.31,660.55 L605.32,658.81 L606.32,657.08 L607.31,655.33 L608.29,653.59 L609.27,651.85 L610.24,650.1 L611.2,648.35 L612.16,646.6 L613.11,644.84 L614.05,643.09 L614.98,641.33 L615.91,639.57 L616.83,637.81 L617.75,636.04 L618.66,634.28 L619.56,632.51 L620.46,630.74 L621.36,628.97 L622.24,627.2 L623.13,625.42 L624.01,623.64 L624.88,621.87 L625.75,620.09 L626.61,618.3 L627.47,616.52 L628.33,614.74 L629.18,612.95 L630.03,611.16 L630.87,609.37 L631.71,607.58 L632.55,605.79 L633.38,603.99 L634.21,602.2 L635.04,600.4 L635.87,598.6 L636.69,596.8 L637.51,595 L638.33,593.2 L639.14,591.4 L639.96,589.59 L640.77,587.79 L641.58,585.98 L642.39,584.17 L643.2,582.36 L644,580.55 L644.81,578.74 L645.61,576.93 L646.42,575.11 L647.22,573.3 L648.02,571.48 L648.82,569.67 L649.63,567.85 L650.43,566.03 L651.23,564.21 L652.04,562.39 L652.84,560.57 L653.64,558.75 L654.45,556.92 L655.25,555.1 L656.06,553.28 L656.87,551.45 L657.68,549.63 L658.49,547.8 L659.31,545.97 L660.12,544.15 L660.94,542.32 L661.76,540.49 L662.58,538.66 L663.41,536.83 L664.23,535 L665.06,533.17 L665.9,531.34 L666.73,529.51 L667.56,527.68 L668.4,525.85 L669.24,524.02 L670.08,522.18 L670.93,520.35 L671.77,518.52 L672.62,516.69 L673.47,514.85 L674.32,513.02 L675.18,511.19 L676.03,509.35 L676.89,507.52 L677.75,505.69 L678.61,503.85 L679.47,502.02 L680.33,500.19 L681.19,498.35 L682.06,496.52 L682.93,494.69 L683.8,492.85 L684.67,491.02 L685.54,489.19 L686.41,487.36 L687.28,485.52 L688.16,483.69 L689.03,481.86 L689.91,480.03 L690.79,478.2 L691.67,476.37 L692.55,474.54 L693.43,472.71 L694.31,470.88 L695.19,469.05 L696.07,467.22 L696.96,465.4 L697.84,463.57 L698.73,461.74 L699.61,459.92 L700.5,458.09 L701.39,456.27 L702.27,454.45 L703.16,452.62 L704.05,450.8 L704.94,448.98 L705.83,447.16 L706.72,445.34 L707.6,443.52 L708.49,441.7 L709.38,439.89 L710.27,438.07 L711.16,436.26 L712.05,434.44 L712.94,432.63 L713.83,430.82 L714.72,429.01 L715.61,427.2 L716.5,425.39 L717.39,423.58 L718.28,421.78 L719.17,419.97 L720.05,418.17 L720.94,416.36 L721.83,414.56 L722.72,412.76 L723.6,410.96 L724.49,409.17 L725.37,407.37 L726.26,405.57 L727.14,403.78 L728.03,401.98 L728.91,400.19 L729.79,398.4 L730.68,396.61 L731.56,394.82 L732.44,393.03 L733.32,391.24 L734.2,389.45 L735.09,387.66 L735.97,385.87 L736.84,384.09 L737.72,382.3 L738.6,380.52 L739.48,378.73 L740.36,376.95 L741.23,375.16 L742.11,373.38 L742.99,371.59 L743.86,369.81 L744.74,368.02 L745.61,366.24 L746.48,364.46 L747.36,362.68 L748.23,360.89 L749.1,359.11 L749.97,357.33 L750.84,355.54 L751.71,353.76 L752.58,351.98 L753.45,350.19 L754.32,348.41 L755.18,346.62 L756.05,344.84 L756.92,343.05 L757.78,341.27 L758.65,339.48 L759.51,337.7 L760.37,335.91 L761.24,334.12 L762.1,332.34 L762.96,330.55 L763.82,328.76 L764.68,326.97 L765.54,325.18 L766.4,323.39 L767.25,321.6 L768.11,319.8 L768.97,318.01 L769.82,316.21 L770.68,314.42 L771.53,312.62 L772.38,310.82 L773.23,309.03 L774.09,307.23 L774.94,305.43 L775.79,303.62 L776.63,301.82 L777.48,300.02 L778.33,298.21 L779.17,296.4 L780.02,294.59 L780.86,292.78 L781.71,290.97 L782.55,289.16 L783.39,287.34 L784.23,285.53 L785.07,283.71 L785.91,281.89 L786.75,280.07 L787.59,278.25 L788.43,276.42 L789.26,274.6 L790.1,272.77 L790.93,270.94 L791.76,269.11 L792.59,267.27 L793.42,265.44 L794.25,263.6 L795.08,261.76 L795.91,259.91 L796.74,258.07 L797.56,256.22 L798.39,254.37 L799.21,252.52 L800.04,250.67 L800.86,248.81 L801.68,246.96 L802.5,245.09 L803.32,243.23 L804.14,241.37 L804.95,239.5 L805.77,237.63 L806.58,235.76 L807.4,233.88 L808.21,232.01 L809.03,230.13 L809.85,228.26 L810.67,226.38 L811.49,224.51 L812.32,222.64 L813.15,220.77 L813.98,218.9 L814.81,217.03 L815.66,215.17 L816.5,213.31 L817.35,211.46 L818.21,209.61 L819.07,207.77 L819.95,205.93 L820.82,204.1 L821.71,202.28 L822.6,200.46 L823.51,198.65 L824.42,196.85 L825.34,195.06 L826.27,193.28 L827.22,191.51 L828.17,189.74 L829.14,187.99 L830.11,186.25 L831.1,184.52 L832.11,182.8 L833.12,181.1 L834.15,179.41 L835.2,177.73 L836.25,176.07 L837.33,174.42 L838.42,172.79 L839.52,171.17 L840.65,169.57 L841.79,167.98 L842.94,166.41 L844.12,164.86 L845.31,163.33 L846.52,161.81 L847.75,160.32 L849,158.84 L850.28,157.38 L851.57,155.95 L852.88,154.53 L854.22,153.14 L855.57,151.77 L856.95,150.42 L858.35,149.09 L859.78,147.79 L861.23,146.51 L862.7,145.25 L864.2,144.02 L865.72,142.81 L867.26,141.62 L868.82,140.45 L870.41,139.31 L872.01,138.18 L873.63,137.08 L875.27,136 L876.93,134.93 L878.61,133.89 L880.3,132.86 L882.01,131.85 L883.74,130.86 L885.48,129.88 L887.23,128.92 L889,127.98 L890.78,127.05 L892.57,126.13 L894.38,125.23 L896.19,124.35 L898.02,123.47 L899.85,122.61 L901.7,121.76 L903.55,120.93 L905.41,120.1 L907.28,119.29 L909.15,118.48 L911.03,117.69 L912.92,116.9 L914.81,116.12 L916.7,115.35 L918.6,114.59 L920.5,113.84 L922.4,113.09 L924.3,112.34 L926.21,111.61 L928.11,110.88 L930.02,110.15 L931.92,109.43 L933.83,108.71 L935.73,107.99 L937.63,107.28 L939.54,106.56 L941.44,105.85 L943.34,105.14 L945.23,104.43 L947.13,103.72 L949.02,103.01 L950.91,102.3 L952.8,101.59 L954.69,100.88 L956.57,100.16 L958.44,99.44 L960.31,98.71 L962.18,97.99 L964.05,97.25 L965.9,96.52 L967.76,95.77 L969.61,95.02 L971.45,94.27 L973.28,93.5 L975.11,92.73 L976.94,91.96 L978.75,91.17 L980.56,90.37 L982.36,89.56 L984.16,88.75 L985.94,87.92 L987.72,87.08 L989.49,86.23 L991.25,85.37 L993,84.5 L1000,84.5" stroke="#4d4d00" stroke-width="3.6" />
<path d="M187,845 L300,845 L301.9,844.24 L303.82,843.51 L305.74,842.83 L307.67,842.18 L309.61,841.56 L311.55,840.99 L313.51,840.44 L315.47,839.93 L317.43,839.45 L319.41,838.99 L321.39,838.57 L323.37,838.17 L325.36,837.8 L327.36,837.45 L329.36,837.12 L331.36,836.82 L333.37,836.53 L335.38,836.27 L337.4,836.02 L339.41,835.79 L341.43,835.57 L343.45,835.37 L345.48,835.18 L347.5,835.01 L349.53,834.84 L351.55,834.68 L353.58,834.53 L355.6,834.38 L357.63,834.24 L359.65,834.1 L361.67,833.97 L363.69,833.83 L365.71,833.7 L367.73,833.56 L369.74,833.42 L371.75,833.28 L373.76,833.13 L375.76,832.98 L377.76,832.81 L379.76,832.64 L381.75,832.45 L383.73,832.26 L385.71,832.05 L387.68,831.83 L389.65,831.59 L391.61,831.33 L393.56,831.06 L395.5,830.77 L397.44,830.46 L399.38,830.13 L401.3,829.79 L403.22,829.43 L405.13,829.05 L407.04,828.65 L408.94,828.24 L410.83,827.8 L412.71,827.35 L414.59,826.88 L416.46,826.39 L418.33,825.88 L420.19,825.34 L422.04,824.79 L423.88,824.22 L425.72,823.63 L427.55,823.02 L429.37,822.39 L431.18,821.73 L432.99,821.06 L434.79,820.36 L436.59,819.64 L438.38,818.91 L440.16,818.14 L441.93,817.36 L443.7,816.55 L445.46,815.73 L447.21,814.88 L448.95,814 L450.69,813.1 L452.42,812.18 L454.14,811.24 L455.86,810.27 L457.57,809.28 L459.27,808.26 L460.96,807.22 L462.65,806.16 L464.32,805.07 L466,803.95 L467.66,802.81 L469.32,801.65 L470.97,800.46 L472.61,799.24 L474.24,798 L475.87,796.74 L477.49,795.45 L479.1,794.14 L480.71,792.82 L482.31,791.47 L483.9,790.11 L485.49,788.73 L487.07,787.33 L488.64,785.93 L490.21,784.51 L491.77,783.08 L493.32,781.64 L494.87,780.19 L496.41,778.74 L497.95,777.28 L499.48,775.81 L501.01,774.35 L502.53,772.88 L504.04,771.41 L505.55,769.94 L507.06,768.47 L508.56,767 L510.05,765.54 L511.54,764.09 L513.03,762.64 L514.51,761.2 L515.98,759.77 L517.46,758.35 L518.92,756.94 L520.39,755.54 L521.85,754.16 L523.31,752.8 L524.76,751.45 L526.21,750.12 L527.65,748.81 L529.09,747.52 L530.53,746.25 L531.97,745 L533.4,743.76 L534.83,742.54 L536.25,741.33 L537.68,740.12 L539.1,738.92 L540.52,737.73 L541.93,736.54 L543.34,735.34 L544.76,734.14 L546.16,732.94 L547.57,731.73 L548.98,730.51 L550.38,729.27 L551.78,728.02 L553.18,726.76 L554.58,725.47 L555.97,724.16 L557.37,722.83 L558.76,721.49 L560.15,720.12 L561.54,718.73 L562.92,717.33 L564.31,715.91 L565.68,714.47 L567.06,713.02 L568.43,711.55 L569.79,710.06 L571.15,708.56 L572.5,707.05 L573.85,705.52 L575.2,703.98 L576.54,702.42 L577.87,700.86 L579.19,699.28 L580.51,697.69 L581.82,696.09 L583.12,694.48 L584.42,692.86 L585.71,691.24 L586.99,689.6 L588.26,687.96 L589.52,686.31 L590.77,684.65 L592.01,682.99 L593.25,681.32 L594.47,679.64 L595.68,677.96 L596.88,676.28 L598.07,674.6 L599.25,672.91 L600.42,671.22 L601.58,669.52 L602.73,667.82 L603.86,666.12 L604.99,664.42 L606.1,662.72 L607.2,661.01 L608.3,659.3 L609.38,657.59 L610.46,655.87 L611.52,654.16 L612.58,652.44 L613.62,650.71 L614.66,648.99 L615.69,647.26 L616.71,645.53 L617.72,643.8 L618.72,642.07 L619.71,640.33 L620.7,638.59 L621.68,636.85 L622.65,635.11 L623.61,633.36 L624.56,631.62 L625.51,629.87 L626.45,628.12 L627.38,626.36 L628.31,624.61 L629.23,622.85 L630.14,621.09 L631.05,619.33 L631.95,617.56 L632.85,615.8 L633.74,614.03 L634.62,612.26 L635.5,610.49 L636.37,608.71 L637.24,606.94 L638.1,605.16 L638.96,603.38 L639.81,601.6 L640.66,599.82 L641.51,598.03 L642.35,596.25 L643.18,594.46 L644.02,592.67 L644.85,590.88 L645.67,589.09 L646.49,587.29 L647.31,585.5 L648.13,583.7 L648.94,581.9 L649.75,580.1 L650.56,578.3 L651.37,576.5 L652.17,574.69 L652.97,572.88 L653.77,571.08 L654.57,569.27 L655.37,567.46 L656.16,565.65 L656.96,563.83 L657.75,562.02 L658.54,560.2 L659.33,558.39 L660.12,556.57 L660.91,554.75 L661.7,552.93 L662.49,551.11 L663.28,549.28 L664.06,547.46 L664.85,545.64 L665.63,543.81 L666.42,541.98 L667.2,540.15 L667.98,538.33 L668.77,536.5 L669.55,534.66 L670.33,532.83 L671.11,531 L671.89,529.17 L672.67,527.33 L673.45,525.5 L674.23,523.66 L675.01,521.82 L675.79,519.99 L676.56,518.15 L677.34,516.31 L678.12,514.47 L678.9,512.63 L679.68,510.79 L680.45,508.95 L681.23,507.1 L682.01,505.26 L682.79,503.42 L683.57,501.57 L684.35,499.73 L685.12,497.88 L685.9,496.04 L686.68,494.19 L687.46,492.35 L688.24,490.5 L689.02,488.65 L689.8,486.81 L690.58,484.96 L691.36,483.11 L692.15,481.26 L692.93,479.41 L693.71,477.56 L694.49,475.71 L695.28,473.87 L696.06,472.02 L696.85,470.17 L697.63,468.32 L698.42,466.47 L699.21,464.62 L700,462.77 L700.79,460.92 L701.58,459.07 L702.37,457.22 L703.16,455.37 L703.96,453.52 L704.75,451.67 L705.55,449.82 L706.34,447.97 L707.14,446.12 L707.94,444.27 L708.74,442.42 L709.54,440.57 L710.35,438.72 L711.15,436.87 L711.96,435.02 L712.76,433.18 L713.57,431.33 L714.38,429.48 L715.19,427.63 L716,425.78 L716.81,423.94 L717.63,422.09 L718.44,420.24 L719.26,418.4 L720.08,416.55 L720.89,414.7 L721.71,412.86 L722.54,411.01 L723.36,409.17 L724.18,407.32 L725.01,405.48 L725.83,403.63 L726.66,401.79 L727.49,399.94 L728.32,398.1 L729.15,396.26 L729.99,394.41 L730.82,392.57 L731.66,390.73 L732.5,388.88 L733.33,387.04 L734.17,385.2 L735.02,383.36 L735.86,381.52 L736.7,379.68 L737.55,377.84 L738.4,376 L739.24,374.16 L740.09,372.32 L740.95,370.48 L741.8,368.64 L742.65,366.8 L743.51,364.97 L744.37,363.13 L745.23,361.29 L746.09,359.46 L746.95,357.62 L747.81,355.79 L748.68,353.95 L749.54,352.12 L750.41,350.28 L751.28,348.45 L752.15,346.62 L753.02,344.78 L753.9,342.95 L754.77,341.12 L755.65,339.29 L756.53,337.46 L757.41,335.63 L758.29,333.8 L759.17,331.97 L760.05,330.14 L760.93,328.31 L761.81,326.49 L762.69,324.66 L763.56,322.83 L764.44,321.01 L765.31,319.18 L766.18,317.36 L767.05,315.53 L767.91,313.71 L768.77,311.89 L769.62,310.06 L770.48,308.24 L771.32,306.42 L772.16,304.6 L773,302.78 L773.83,300.96 L774.65,299.14 L775.46,297.33 L776.27,295.51 L777.08,293.69 L777.87,291.88 L778.66,290.06 L779.45,288.25 L780.23,286.43 L781,284.62 L781.78,282.81 L782.54,281 L783.3,279.19 L784.06,277.38 L784.81,275.57 L785.57,273.76 L786.31,271.95 L787.06,270.14 L787.8,268.33 L788.54,266.53 L789.28,264.72 L790.02,262.92 L790.76,261.12 L791.49,259.31 L792.23,257.51 L792.96,255.71 L793.69,253.91 L794.43,252.11 L795.16,250.31 L795.9,248.51 L796.63,246.72 L797.37,244.92 L798.11,243.12 L798.85,241.33 L799.6,239.54 L800.34,237.74 L801.09,235.95 L801.84,234.16 L802.6,232.37 L803.36,230.58 L804.12,228.79 L804.88,227 L805.66,225.22 L806.43,223.43 L807.21,221.65 L808,219.86 L808.79,218.08 L809.59,216.3 L810.39,214.52 L811.2,212.73 L812.02,210.96 L812.84,209.18 L813.68,207.4 L814.51,205.62 L815.36,203.85 L816.22,202.07 L817.08,200.3 L817.95,198.53 L818.83,196.76 L819.73,194.99 L820.63,193.22 L821.54,191.45 L822.46,189.68 L823.39,187.91 L824.33,186.15 L825.28,184.38 L826.25,182.62 L827.22,180.86 L828.21,179.1 L829.21,177.34 L830.22,175.58 L831.25,173.82 L832.29,172.06 L833.34,170.31 L834.4,168.55 L835.48,166.8 L836.58,165.05 L837.69,163.3 L838.81,161.55 L839.95,159.8 L841.1,158.05 L842.27,156.31 L843.45,154.57 L844.65,152.85 L845.87,151.13 L847.1,149.42 L848.34,147.72 L849.61,146.03 L850.89,144.36 L852.18,142.71 L853.49,141.07 L854.82,139.45 L856.17,137.86 L857.53,136.28 L858.91,134.73 L860.3,133.2 L861.71,131.7 L863.14,130.23 L864.59,128.79 L866.06,127.38 L867.54,126 L869.04,124.65 L870.56,123.34 L872.09,122.07 L873.65,120.84 L875.22,119.64 L876.81,118.49 L878.42,117.38 L880.05,116.32 L881.7,115.3 L883.36,114.32 L885.05,113.4 L886.75,112.53 L888.48,111.71 L890.22,110.94 L891.98,110.22 L893.76,109.55 L895.55,108.92 L897.37,108.33 L899.2,107.79 L901.04,107.28 L902.9,106.8 L904.77,106.36 L906.66,105.94 L908.56,105.55 L910.47,105.18 L912.39,104.83 L914.32,104.49 L916.27,104.17 L918.22,103.87 L920.18,103.57 L922.15,103.28 L924.13,102.99 L926.11,102.7 L928.1,102.42 L930.1,102.12 L932.1,101.82 L934.11,101.51 L936.12,101.19 L938.13,100.85 L940.14,100.49 L942.16,100.11 L944.17,99.71 L946.19,99.28 L948.21,98.82 L950.22,98.33 L952.24,97.81 L954.25,97.25 L956.26,96.65 L958.26,96 L960.26,95.31 L962.26,94.59 L964.25,93.83 L966.23,93.06 L968.21,92.27 L970.18,91.48 L972.14,90.69 L974.1,89.91 L976.04,89.15 L977.97,88.42 L979.9,87.72 L981.81,87.06 L983.71,86.46 L985.59,85.92 L987.47,85.44 L989.33,85.04 L991.17,84.73 L993,84.5 L1000,84.5" stroke="#00ffff" stroke-width="4.5" />
<path d="M187,844.5 L300,844.49 L302.03,844.37 L304.06,844.24 L306.09,844.1 L308.12,843.94 L310.14,843.78 L312.17,843.61 L314.19,843.42 L316.21,843.23 L318.23,843.03 L320.25,842.82 L322.26,842.59 L324.28,842.36 L326.29,842.12 L328.3,841.86 L330.31,841.6 L332.31,841.33 L334.31,841.04 L336.32,840.75 L338.31,840.44 L340.31,840.13 L342.3,839.8 L344.29,839.47 L346.28,839.12 L348.27,838.77 L350.25,838.4 L352.23,838.02 L354.21,837.64 L356.18,837.24 L358.15,836.83 L360.12,836.41 L362.08,835.98 L364.05,835.54 L366,835.1 L367.96,834.63 L369.91,834.16 L371.86,833.68 L373.8,833.19 L375.74,832.69 L377.68,832.17 L379.61,831.65 L381.54,831.12 L383.47,830.57 L385.39,830.01 L387.31,829.45 L389.22,828.87 L391.13,828.28 L393.03,827.68 L394.94,827.07 L396.83,826.45 L398.72,825.82 L400.61,825.18 L402.5,824.53 L404.37,823.86 L406.25,823.19 L408.12,822.5 L409.98,821.8 L411.84,821.09 L413.7,820.38 L415.55,819.65 L417.39,818.9 L419.23,818.15 L421.07,817.39 L422.9,816.61 L424.72,815.83 L426.54,815.03 L428.35,814.22 L430.16,813.41 L431.96,812.58 L433.76,811.73 L435.55,810.88 L437.34,810.02 L439.12,809.14 L440.89,808.26 L442.66,807.36 L444.42,806.45 L446.18,805.53 L447.93,804.6 L449.67,803.65 L451.41,802.7 L453.14,801.73 L454.86,800.76 L456.58,799.77 L458.29,798.77 L460,797.75 L461.69,796.73 L463.39,795.7 L465.07,794.65 L466.75,793.59 L468.42,792.52 L470.09,791.44 L471.75,790.35 L473.4,789.25 L475.04,788.14 L476.68,787.01 L478.31,785.88 L479.94,784.73 L481.56,783.58 L483.17,782.41 L484.77,781.24 L486.37,780.05 L487.96,778.85 L489.55,777.65 L491.12,776.43 L492.7,775.21 L494.26,773.97 L495.82,772.73 L497.37,771.47 L498.91,770.21 L500.45,768.94 L501.98,767.66 L503.51,766.36 L505.02,765.06 L506.53,763.76 L508.04,762.44 L509.53,761.11 L511.02,759.78 L512.51,758.44 L513.98,757.08 L515.45,755.73 L516.92,754.36 L518.37,752.98 L519.82,751.6 L521.27,750.21 L522.7,748.81 L524.13,747.4 L525.56,745.99 L526.97,744.57 L528.38,743.14 L529.78,741.7 L531.18,740.26 L532.57,738.81 L533.95,737.35 L535.32,735.88 L536.69,734.41 L538.05,732.94 L539.41,731.45 L540.76,729.96 L542.1,728.46 L543.43,726.96 L544.76,725.45 L546.08,723.94 L547.39,722.41 L548.7,720.89 L550,719.35 L551.29,717.82 L552.58,716.27 L553.86,714.72 L555.13,713.17 L556.4,711.61 L557.66,710.04 L558.91,708.47 L560.15,706.9 L561.39,705.32 L562.62,703.73 L563.85,702.14 L565.07,700.55 L566.28,698.95 L567.48,697.35 L568.68,695.74 L569.87,694.13 L571.05,692.51 L572.23,690.89 L573.4,689.27 L574.57,687.64 L575.72,686.01 L576.88,684.37 L578.02,682.73 L579.16,681.09 L580.29,679.44 L581.42,677.78 L582.54,676.13 L583.65,674.47 L584.76,672.8 L585.86,671.14 L586.95,669.46 L588.04,667.79 L589.13,666.11 L590.2,664.43 L591.28,662.74 L592.34,661.05 L593.4,659.36 L594.46,657.66 L595.51,655.96 L596.55,654.26 L597.59,652.55 L598.62,650.84 L599.65,649.13 L600.67,647.41 L601.69,645.69 L602.7,643.97 L603.71,642.24 L604.71,640.51 L605.7,638.78 L606.69,637.04 L607.68,635.3 L608.66,633.56 L609.64,631.81 L610.61,630.07 L611.58,628.32 L612.54,626.56 L613.49,624.81 L614.45,623.05 L615.39,621.28 L616.34,619.52 L617.28,617.75 L618.21,615.98 L619.14,614.21 L620.07,612.43 L620.99,610.66 L621.91,608.88 L622.82,607.09 L623.73,605.31 L624.63,603.52 L625.53,601.73 L626.43,599.94 L627.32,598.15 L628.21,596.35 L629.1,594.55 L629.98,592.75 L630.86,590.95 L631.73,589.14 L632.6,587.34 L633.47,585.53 L634.33,583.72 L635.19,581.9 L636.05,580.09 L636.9,578.27 L637.75,576.45 L638.6,574.63 L639.44,572.81 L640.28,570.98 L641.12,569.16 L641.95,567.33 L642.79,565.5 L643.61,563.67 L644.44,561.84 L645.26,560.01 L646.08,558.17 L646.9,556.34 L647.71,554.5 L648.52,552.66 L649.33,550.82 L650.14,548.98 L650.94,547.13 L651.74,545.29 L652.54,543.44 L653.34,541.6 L654.13,539.75 L654.92,537.9 L655.71,536.05 L656.5,534.2 L657.29,532.35 L658.07,530.49 L658.85,528.64 L659.63,526.78 L660.41,524.93 L661.18,523.07 L661.96,521.22 L662.73,519.36 L663.5,517.5 L664.27,515.64 L665.04,513.78 L665.8,511.92 L666.57,510.06 L667.33,508.2 L668.09,506.34 L668.85,504.47 L669.61,502.61 L670.37,500.75 L671.12,498.89 L671.88,497.02 L672.63,495.16 L673.38,493.29 L674.14,491.43 L674.89,489.57 L675.64,487.7 L676.39,485.84 L677.14,483.97 L677.88,482.11 L678.63,480.24 L679.38,478.38 L680.12,476.52 L680.87,474.65 L681.61,472.79 L682.36,470.92 L683.1,469.06 L683.85,467.2 L684.59,465.33 L685.33,463.47 L686.08,461.61 L686.82,459.75 L687.56,457.89 L688.3,456.03 L689.05,454.17 L689.79,452.31 L690.53,450.45 L691.28,448.59 L692.02,446.73 L692.76,444.87 L693.51,443.02 L694.25,441.16 L694.99,439.31 L695.74,437.45 L696.48,435.6 L697.23,433.74 L697.97,431.89 L698.72,430.04 L699.46,428.19 L700.21,426.33 L700.96,424.48 L701.7,422.63 L702.45,420.78 L703.19,418.93 L703.94,417.08 L704.69,415.23 L705.43,413.38 L706.18,411.53 L706.93,409.69 L707.68,407.84 L708.43,405.99 L709.17,404.14 L709.92,402.29 L710.67,400.45 L711.42,398.6 L712.17,396.75 L712.92,394.9 L713.67,393.06 L714.42,391.21 L715.17,389.36 L715.92,387.52 L716.67,385.67 L717.42,383.82 L718.17,381.98 L718.92,380.13 L719.67,378.28 L720.43,376.44 L721.18,374.59 L721.93,372.74 L722.68,370.89 L723.43,369.05 L724.19,367.2 L724.94,365.35 L725.69,363.5 L726.45,361.66 L727.2,359.81 L727.96,357.96 L728.71,356.11 L729.47,354.26 L730.22,352.41 L730.98,350.56 L731.73,348.71 L732.49,346.86 L733.25,345.01 L734,343.16 L734.76,341.31 L735.52,339.45 L736.27,337.6 L737.03,335.75 L737.79,333.89 L738.55,332.04 L739.31,330.19 L740.07,328.33 L740.83,326.47 L741.59,324.62 L742.34,322.76 L743.11,320.9 L743.87,319.04 L744.63,317.19 L745.39,315.33 L746.15,313.47 L746.91,311.6 L747.67,309.74 L748.43,307.88 L749.2,306.02 L749.96,304.15 L750.72,302.29 L751.49,300.42 L752.25,298.55 L753.02,296.69 L753.78,294.82 L754.54,292.95 L755.31,291.08 L756.08,289.21 L756.84,287.33 L757.61,285.46 L758.37,283.59 L759.14,281.71 L759.91,279.83 L760.68,277.96 L761.44,276.08 L762.21,274.2 L762.98,272.32 L763.75,270.44 L764.52,268.56 L765.3,266.68 L766.07,264.8 L766.85,262.92 L767.62,261.04 L768.4,259.16 L769.19,257.28 L769.97,255.4 L770.76,253.52 L771.55,251.64 L772.34,249.77 L773.14,247.9 L773.93,246.02 L774.74,244.15 L775.54,242.28 L776.35,240.42 L777.16,238.55 L777.98,236.69 L778.8,234.83 L779.63,232.98 L780.46,231.12 L781.29,229.27 L782.13,227.42 L782.97,225.58 L783.82,223.74 L784.68,221.9 L785.54,220.06 L786.41,218.23 L787.28,216.41 L788.16,214.59 L789.04,212.77 L789.93,210.96 L790.83,209.15 L791.73,207.34 L792.64,205.55 L793.56,203.75 L794.48,201.97 L795.42,200.18 L796.35,198.41 L797.3,196.63 L798.26,194.87 L799.22,193.11 L800.19,191.36 L801.17,189.61 L802.16,187.87 L803.16,186.14 L804.16,184.41 L805.18,182.69 L806.2,180.98 L807.23,179.28 L808.28,177.58 L809.33,175.89 L810.39,174.21 L811.46,172.53 L812.55,170.87 L813.64,169.21 L814.74,167.56 L815.86,165.92 L816.98,164.29 L818.12,162.67 L819.27,161.05 L820.43,159.45 L821.6,157.85 L822.78,156.27 L823.97,154.69 L825.18,153.13 L826.4,151.57 L827.63,150.03 L828.87,148.49 L830.12,146.96 L831.39,145.45 L832.67,143.95 L833.97,142.46 L835.27,140.98 L836.59,139.51 L837.92,138.05 L839.27,136.61 L840.63,135.18 L842,133.77 L843.38,132.36 L844.77,130.97 L846.18,129.6 L847.61,128.24 L849.04,126.89 L850.49,125.56 L851.95,124.25 L853.42,122.95 L854.91,121.66 L856.41,120.39 L857.93,119.14 L859.45,117.91 L860.99,116.69 L862.55,115.49 L864.11,114.31 L865.7,113.14 L867.29,111.99 L868.9,110.86 L870.52,109.75 L872.15,108.66 L873.8,107.59 L875.46,106.54 L877.14,105.51 L878.83,104.5 L880.53,103.5 L882.25,102.53 L883.98,101.58 L885.72,100.66 L887.48,99.75 L889.25,98.86 L891.03,98 L892.83,97.16 L894.64,96.34 L896.47,95.55 L898.31,94.78 L900.16,94.03 L902.03,93.31 L903.91,92.61 L905.8,91.93 L907.7,91.28 L909.62,90.66 L911.56,90.06 L913.5,89.49 L915.46,88.94 L917.43,88.42 L919.42,87.92 L921.42,87.45 L923.43,87.01 L925.46,86.6 L927.5,86.21 L929.55,85.86 L931.61,85.53 L933.69,85.23 L935.78,84.95 L937.89,84.71 L940.01,84.5" stroke="#ff00ff" stroke-width="3.4" />
<path d="M187,845 L300,845 L301.94,844.68 L303.89,844.35 L305.83,844.02 L307.78,843.68 L309.73,843.34 L311.68,843 L313.63,842.65 L315.59,842.29 L317.54,841.94 L319.5,841.57 L321.46,841.21 L323.42,840.84 L325.38,840.46 L327.34,840.08 L329.3,839.69 L331.27,839.3 L333.23,838.9 L335.19,838.5 L337.16,838.09 L339.12,837.67 L341.08,837.25 L343.05,836.83 L345.01,836.39 L346.97,835.96 L348.94,835.51 L350.9,835.06 L352.86,834.6 L354.82,834.14 L356.78,833.67 L358.74,833.2 L360.7,832.71 L362.65,832.22 L364.61,831.73 L366.56,831.22 L368.51,830.71 L370.46,830.2 L372.41,829.67 L374.36,829.14 L376.3,828.6 L378.24,828.05 L380.18,827.5 L382.12,826.93 L384.06,826.36 L385.99,825.79 L387.92,825.2 L389.85,824.6 L391.77,824 L393.69,823.39 L395.61,822.77 L397.52,822.14 L399.43,821.51 L401.34,820.86 L403.25,820.21 L405.15,819.54 L407.04,818.87 L408.93,818.19 L410.82,817.5 L412.71,816.8 L414.59,816.09 L416.46,815.38 L418.33,814.65 L420.2,813.91 L422.06,813.16 L423.92,812.41 L425.77,811.64 L427.62,810.86 L429.46,810.08 L431.29,809.28 L433.12,808.47 L434.95,807.66 L436.77,806.83 L438.58,805.99 L440.39,805.14 L442.19,804.28 L443.98,803.41 L445.77,802.53 L447.56,801.63 L449.33,800.73 L451.1,799.81 L452.86,798.89 L454.62,797.95 L456.37,797 L458.11,796.04 L459.85,795.06 L461.57,794.08 L463.29,793.08 L465.01,792.07 L466.71,791.05 L468.41,790.02 L470.1,788.97 L471.78,787.91 L473.46,786.84 L475.12,785.76 L476.78,784.66 L478.43,783.55 L480.08,782.43 L481.71,781.3 L483.34,780.15 L484.95,778.99 L486.56,777.82 L488.16,776.63 L489.76,775.43 L491.34,774.21 L492.92,772.98 L494.48,771.74 L496.04,770.49 L497.59,769.22 L499.13,767.93 L500.66,766.63 L502.18,765.32 L503.69,763.99 L505.2,762.65 L506.69,761.3 L508.17,759.93 L509.65,758.54 L511.11,757.14 L512.57,755.73 L514.02,754.3 L515.45,752.85 L516.88,751.4 L518.29,749.93 L519.7,748.46 L521.1,746.97 L522.48,745.48 L523.86,743.97 L525.23,742.46 L526.58,740.95 L527.93,739.43 L529.26,737.9 L530.58,736.37 L531.9,734.84 L533.2,733.31 L534.49,731.77 L535.78,730.23 L537.05,728.68 L538.31,727.13 L539.57,725.58 L540.82,724.03 L542.05,722.47 L543.28,720.91 L544.5,719.34 L545.71,717.78 L546.92,716.2 L548.11,714.63 L549.3,713.05 L550.48,711.47 L551.65,709.89 L552.82,708.3 L553.98,706.71 L555.13,705.12 L556.28,703.52 L557.42,701.92 L558.55,700.32 L559.67,698.72 L560.8,697.11 L561.91,695.5 L563.02,693.88 L564.12,692.27 L565.22,690.65 L566.32,689.02 L567.41,687.4 L568.49,685.77 L569.57,684.14 L570.65,682.5 L571.72,680.87 L572.79,679.23 L573.85,677.58 L574.91,675.94 L575.97,674.29 L577.03,672.64 L578.08,670.98 L579.13,669.33 L580.17,667.67 L581.22,666.01 L582.26,664.34 L583.3,662.68 L584.34,661.01 L585.38,659.33 L586.41,657.66 L587.44,655.98 L588.48,654.3 L589.51,652.62 L590.54,650.94 L591.57,649.25 L592.6,647.56 L593.63,645.87 L594.66,644.17 L595.7,642.47 L596.73,640.77 L597.76,639.07 L598.79,637.37 L599.83,635.66 L600.86,633.95 L601.9,632.24 L602.93,630.53 L603.97,628.81 L605.02,627.09 L606.06,625.37 L607.11,623.65 L608.15,621.93 L609.2,620.2 L610.25,618.47 L611.31,616.74 L612.36,615.01 L613.41,613.27 L614.47,611.53 L615.52,609.79 L616.57,608.05 L617.63,606.31 L618.68,604.56 L619.74,602.81 L620.79,601.06 L621.84,599.31 L622.89,597.56 L623.94,595.8 L624.99,594.05 L626.03,592.29 L627.07,590.52 L628.11,588.76 L629.15,587 L630.19,585.23 L631.22,583.46 L632.25,581.69 L633.27,579.92 L634.29,578.14 L635.31,576.37 L636.32,574.59 L637.33,572.81 L638.33,571.03 L639.33,569.25 L640.32,567.46 L641.31,565.68 L642.29,563.89 L643.27,562.1 L644.24,560.31 L645.2,558.51 L646.16,556.72 L647.11,554.92 L648.06,553.13 L648.99,551.33 L649.92,549.53 L650.85,547.73 L651.76,545.92 L652.66,544.12 L653.56,542.31 L654.45,540.51 L655.33,538.7 L656.2,536.89 L657.07,535.08 L657.92,533.26 L658.77,531.45 L659.61,529.63 L660.44,527.82 L661.26,526 L662.08,524.18 L662.89,522.36 L663.7,520.54 L664.5,518.71 L665.29,516.89 L666.08,515.07 L666.87,513.24 L667.64,511.41 L668.42,509.58 L669.19,507.75 L669.96,505.92 L670.72,504.09 L671.48,502.26 L672.24,500.42 L672.99,498.59 L673.75,496.75 L674.5,494.92 L675.24,493.08 L675.99,491.24 L676.74,489.4 L677.48,487.56 L678.23,485.72 L678.97,483.88 L679.71,482.03 L680.45,480.19 L681.2,478.34 L681.94,476.5 L682.68,474.65 L683.42,472.81 L684.15,470.96 L684.89,469.11 L685.63,467.26 L686.37,465.41 L687.1,463.56 L687.84,461.71 L688.58,459.86 L689.31,458.01 L690.05,456.16 L690.79,454.3 L691.52,452.45 L692.26,450.6 L692.99,448.74 L693.73,446.89 L694.46,445.03 L695.2,443.18 L695.93,441.32 L696.67,439.47 L697.41,437.61 L698.14,435.76 L698.88,433.9 L699.61,432.04 L700.35,430.19 L701.09,428.33 L701.83,426.47 L702.56,424.62 L703.3,422.76 L704.04,420.9 L704.78,419.05 L705.52,417.19 L706.26,415.33 L707,413.48 L707.74,411.62 L708.49,409.76 L709.23,407.91 L709.97,406.05 L710.72,404.19 L711.47,402.34 L712.21,400.48 L712.96,398.63 L713.71,396.77 L714.46,394.92 L715.21,393.06 L715.96,391.21 L716.72,389.36 L717.47,387.5 L718.23,385.65 L718.98,383.8 L719.74,381.94 L720.5,380.09 L721.26,378.24 L722.02,376.39 L722.79,374.54 L723.55,372.69 L724.32,370.84 L725.09,369 L725.86,367.15 L726.63,365.3 L727.4,363.46 L728.18,361.61 L728.96,359.77 L729.73,357.92 L730.52,356.08 L731.3,354.24 L732.08,352.4 L732.87,350.56 L733.66,348.72 L734.45,346.88 L735.24,345.04 L736.03,343.21 L736.83,341.37 L737.63,339.54 L738.43,337.7 L739.23,335.87 L740.04,334.04 L740.85,332.21 L741.66,330.38 L742.47,328.55 L743.28,326.73 L744.1,324.9 L744.92,323.08 L745.75,321.25 L746.57,319.43 L747.4,317.61 L748.23,315.79 L749.06,313.97 L749.9,312.16 L750.74,310.34 L751.58,308.53 L752.42,306.72 L753.27,304.91 L754.12,303.1 L754.98,301.29 L755.83,299.49 L756.69,297.68 L757.55,295.88 L758.42,294.08 L759.29,292.28 L760.16,290.48 L761.04,288.69 L761.92,286.89 L762.8,285.1 L763.68,283.31 L764.57,281.52 L765.46,279.73 L766.36,277.95 L767.26,276.17 L768.16,274.39 L769.07,272.61 L769.98,270.83 L770.89,269.05 L771.81,267.28 L772.73,265.51 L773.65,263.74 L774.58,261.97 L775.52,260.21 L776.45,258.44 L777.39,256.68 L778.34,254.92 L779.29,253.17 L780.24,251.41 L781.2,249.66 L782.16,247.91 L783.12,246.16 L784.09,244.42 L785.06,242.67 L786.04,240.93 L787.02,239.2 L788.01,237.46 L789,235.73 L790,233.99 L790.99,232.27 L792,230.54 L793.01,228.82 L794.02,227.1 L795.04,225.38 L796.06,223.66 L797.09,221.95 L798.12,220.24 L799.16,218.53 L800.2,216.83 L801.25,215.12 L802.3,213.42 L803.35,211.73 L804.41,210.03 L805.48,208.34 L806.55,206.65 L807.63,204.97 L808.71,203.28 L809.8,201.6 L810.89,199.93 L811.99,198.25 L813.09,196.58 L814.2,194.91 L815.31,193.25 L816.43,191.59 L817.55,189.93 L818.68,188.27 L819.82,186.62 L820.96,184.97 L822.1,183.33 L823.25,181.68 L824.41,180.04 L825.57,178.41 L826.74,176.77 L827.92,175.14 L829.1,173.52 L830.28,171.89 L831.48,170.28 L832.68,168.66 L833.88,167.05 L835.09,165.45 L836.31,163.85 L837.53,162.25 L838.76,160.66 L840,159.07 L841.25,157.49 L842.5,155.92 L843.75,154.35 L845.02,152.78 L846.29,151.22 L847.57,149.67 L848.86,148.12 L850.15,146.58 L851.45,145.05 L852.76,143.52 L854.07,142 L855.4,140.49 L856.73,138.98 L858.07,137.48 L859.41,135.99 L860.77,134.51 L862.13,133.03 L863.5,131.56 L864.88,130.1 L866.27,128.65 L867.66,127.21 L869.07,125.77 L870.48,124.34 L871.9,122.93 L873.33,121.52 L874.77,120.12 L876.22,118.73 L877.67,117.34 L879.14,115.97 L880.61,114.61 L882.1,113.26 L883.59,111.92 L885.09,110.59 L886.6,109.27 L888.12,107.96 L889.66,106.67 L891.2,105.4 L892.76,104.15 L894.33,102.91 L895.91,101.7 L897.5,100.52 L899.11,99.36 L900.74,98.23 L902.37,97.13 L904.03,96.07 L905.7,95.03 L907.38,94.03 L909.09,93.07 L910.81,92.15 L912.55,91.26 L914.3,90.42 L916.08,89.63 L917.88,88.88 L919.69,88.18 L921.53,87.52 L923.38,86.92 L925.26,86.37 L927.16,85.88 L929.09,85.45 L931.03,85.07 L933,84.75 L935,84.5" stroke="#5a5a5a" stroke-width="4.5" />
<path d="M187,845 L300,845 L330,844.8 L332.1,844.73 L334.2,844.66 L336.3,844.58 L338.38,844.5 L340.46,844.41 L342.54,844.31 L344.61,844.2 L346.67,844.09 L348.73,843.96 L350.78,843.83 L352.82,843.69 L354.86,843.54 L356.89,843.37 L358.92,843.2 L360.94,843.02 L362.95,842.82 L364.96,842.62 L366.96,842.4 L368.95,842.17 L370.94,841.93 L372.92,841.67 L374.9,841.4 L376.87,841.11 L378.83,840.82 L380.79,840.5 L382.74,840.18 L384.68,839.83 L386.62,839.47 L388.55,839.1 L390.48,838.7 L392.4,838.29 L394.31,837.87 L396.22,837.42 L398.12,836.96 L400.01,836.48 L401.9,835.98 L403.78,835.46 L405.65,834.92 L407.52,834.36 L409.38,833.78 L411.23,833.17 L413.08,832.55 L414.92,831.91 L416.75,831.24 L418.58,830.55 L420.4,829.84 L422.22,829.11 L424.03,828.35 L425.83,827.57 L427.62,826.77 L429.41,825.95 L431.19,825.1 L432.97,824.24 L434.73,823.35 L436.49,822.45 L438.25,821.53 L440,820.59 L441.74,819.63 L443.47,818.65 L445.2,817.66 L446.92,816.65 L448.63,815.63 L450.34,814.59 L452.04,813.53 L453.73,812.46 L455.42,811.38 L457.1,810.28 L458.77,809.17 L460.44,808.05 L462.1,806.92 L463.75,805.77 L465.39,804.62 L467.03,803.45 L468.66,802.27 L470.29,801.09 L471.9,799.89 L473.51,798.69 L475.12,797.48 L476.71,796.25 L478.3,795.03 L479.88,793.79 L481.46,792.54 L483.02,791.29 L484.59,790.03 L486.14,788.76 L487.68,787.48 L489.22,786.19 L490.76,784.9 L492.28,783.6 L493.8,782.29 L495.31,780.97 L496.81,779.65 L498.31,778.32 L499.8,776.98 L501.28,775.63 L502.75,774.27 L504.22,772.91 L505.68,771.54 L507.13,770.16 L508.58,768.78 L510.02,767.39 L511.45,765.99 L512.87,764.58 L514.29,763.17 L515.7,761.75 L517.1,760.32 L518.49,758.89 L519.88,757.45 L521.26,756 L522.63,754.54 L523.99,753.08 L525.35,751.62 L526.7,750.14 L528.04,748.66 L529.38,747.17 L530.7,745.68 L532.02,744.18 L533.34,742.67 L534.64,741.16 L535.94,739.64 L537.23,738.11 L538.51,736.58 L539.79,735.05 L541.06,733.5 L542.32,731.96 L543.57,730.4 L544.82,728.84 L546.05,727.28 L547.29,725.71 L548.51,724.13 L549.73,722.55 L550.94,720.96 L552.14,719.37 L553.34,717.77 L554.52,716.17 L555.7,714.57 L556.88,712.96 L558.05,711.34 L559.2,709.72 L560.36,708.09 L561.5,706.46 L562.64,704.83 L563.77,703.19 L564.89,701.55 L566.01,699.9 L567.12,698.25 L568.22,696.59 L569.32,694.93 L570.41,693.27 L571.49,691.6 L572.57,689.93 L573.63,688.26 L574.7,686.58 L575.75,684.89 L576.8,683.21 L577.84,681.52 L578.88,679.82 L579.91,678.12 L580.93,676.42 L581.95,674.72 L582.96,673.01 L583.97,671.29 L584.96,669.58 L585.96,667.86 L586.94,666.14 L587.92,664.41 L588.9,662.68 L589.87,660.95 L590.83,659.21 L591.79,657.47 L592.74,655.73 L593.69,653.98 L594.63,652.23 L595.57,650.48 L596.5,648.72 L597.43,646.96 L598.35,645.2 L599.26,643.43 L600.17,641.67 L601.08,639.9 L601.98,638.12 L602.88,636.35 L603.77,634.57 L604.65,632.78 L605.54,631 L606.41,629.21 L607.28,627.42 L608.15,625.63 L609.02,623.83 L609.87,622.03 L610.73,620.23 L611.58,618.43 L612.42,616.62 L613.27,614.82 L614.1,613.01 L614.94,611.19 L615.77,609.38 L616.59,607.56 L617.42,605.74 L618.23,603.92 L619.05,602.09 L619.86,600.27 L620.67,598.44 L621.47,596.61 L622.27,594.78 L623.07,592.94 L623.86,591.1 L624.65,589.27 L625.44,587.43 L626.22,585.58 L627,583.74 L627.78,581.89 L628.55,580.05 L629.33,578.2 L630.1,576.35 L630.86,574.49 L631.62,572.64 L632.38,570.78 L633.14,568.92 L633.9,567.07 L634.65,565.21 L635.4,563.34 L636.15,561.48 L636.89,559.62 L637.64,557.75 L638.38,555.88 L639.12,554.01 L639.85,552.14 L640.59,550.27 L641.32,548.4 L642.05,546.53 L642.78,544.65 L643.51,542.78 L644.23,540.9 L644.96,539.03 L645.68,537.15 L646.4,535.27 L647.12,533.39 L647.84,531.51 L648.55,529.63 L649.27,527.74 L649.98,525.86 L650.7,523.98 L651.41,522.09 L652.12,520.21 L652.83,518.32 L653.54,516.44 L654.25,514.55 L654.95,512.66 L655.66,510.78 L656.36,508.89 L657.07,507 L657.77,505.11 L658.48,503.22 L659.18,501.33 L659.88,499.44 L660.59,497.55 L661.29,495.66 L661.99,493.77 L662.69,491.88 L663.39,489.99 L664.1,488.11 L664.8,486.22 L665.5,484.33 L666.2,482.44 L666.9,480.55 L667.61,478.66 L668.31,476.77 L669.01,474.88 L669.72,472.99 L670.42,471.1 L671.13,469.21 L671.83,467.33 L672.54,465.44 L673.25,463.55 L673.95,461.67 L674.66,459.78 L675.37,457.89 L676.08,456.01 L676.79,454.13 L677.51,452.24 L678.22,450.36 L678.93,448.48 L679.65,446.59 L680.37,444.71 L681.08,442.83 L681.8,440.95 L682.52,439.07 L683.24,437.2 L683.96,435.32 L684.68,433.44 L685.41,431.56 L686.13,429.69 L686.85,427.81 L687.58,425.94 L688.31,424.06 L689.03,422.19 L689.76,420.32 L690.49,418.44 L691.22,416.57 L691.95,414.7 L692.68,412.83 L693.42,410.96 L694.15,409.09 L694.88,407.22 L695.62,405.36 L696.36,403.49 L697.09,401.62 L697.83,399.76 L698.57,397.89 L699.31,396.03 L700.05,394.17 L700.79,392.3 L701.53,390.44 L702.28,388.58 L703.02,386.72 L703.77,384.86 L704.51,383 L705.26,381.15 L706.01,379.29 L706.75,377.43 L707.5,375.58 L708.25,373.72 L709,371.87 L709.76,370.02 L710.51,368.16 L711.26,366.31 L712.02,364.46 L712.77,362.61 L713.53,360.76 L714.28,358.92 L715.04,357.07 L715.8,355.22 L716.56,353.38 L717.32,351.53 L718.08,349.69 L718.84,347.84 L719.6,346 L720.37,344.16 L721.13,342.32 L721.9,340.48 L722.66,338.64 L723.43,336.8 L724.2,334.97 L724.96,333.13 L725.73,331.3 L726.5,329.46 L727.27,327.63 L728.04,325.8 L728.82,323.97 L729.59,322.14 L730.36,320.31 L731.14,318.48 L731.91,316.65 L732.69,314.82 L733.47,313 L734.24,311.17 L735.02,309.35 L735.8,307.52 L736.58,305.7 L737.36,303.88 L738.14,302.06 L738.93,300.23 L739.71,298.41 L740.49,296.59 L741.28,294.77 L742.06,292.95 L742.85,291.13 L743.64,289.31 L744.42,287.49 L745.21,285.67 L746,283.85 L746.79,282.03 L747.58,280.21 L748.37,278.39 L749.16,276.58 L749.96,274.76 L750.75,272.93 L751.55,271.11 L752.34,269.29 L753.14,267.47 L753.93,265.65 L754.73,263.83 L755.53,262.01 L756.33,260.18 L757.13,258.36 L757.93,256.54 L758.73,254.71 L759.53,252.88 L760.33,251.06 L761.13,249.23 L761.94,247.4 L762.74,245.57 L763.55,243.74 L764.35,241.91 L765.16,240.08 L765.96,238.25 L766.77,236.41 L767.58,234.57 L768.39,232.74 L769.2,230.9 L770.01,229.06 L770.82,227.22 L771.63,225.37 L772.45,223.53 L773.26,221.68 L774.07,219.84 L774.89,217.99 L775.7,216.14 L776.52,214.28 L777.34,212.43 L778.15,210.57 L778.97,208.72 L779.79,206.86 L780.61,204.99 L781.43,203.13 L782.25,201.26 L783.07,199.4 L783.89,197.53 L784.71,195.65 L785.54,193.78 L786.36,191.9 L787.18,190.02 L788.01,188.14 L788.84,186.25 L789.66,184.37 L790.49,182.48 L791.32,180.59 L792.14,178.69 L792.97,176.8 L793.8,174.9 L794.64,173 L795.47,171.1 L796.31,169.2 L797.16,167.31 L798.01,165.42 L798.86,163.53 L799.72,161.64 L800.58,159.76 L801.46,157.89 L802.34,156.02 L803.22,154.16 L804.12,152.31 L805.03,150.46 L805.94,148.63 L806.87,146.8 L807.81,144.99 L808.75,143.19 L809.71,141.4 L810.69,139.62 L811.67,137.86 L812.67,136.11 L813.69,134.38 L814.72,132.66 L815.76,130.97 L816.83,129.29 L817.9,127.62 L819,125.98 L820.11,124.36 L821.24,122.76 L822.4,121.18 L823.57,119.62 L824.76,118.08 L825.97,116.57 L827.2,115.09 L828.45,113.63 L829.73,112.19 L831.03,110.78 L832.36,109.4 L833.7,108.05 L835.08,106.73 L836.47,105.44 L837.9,104.18 L839.35,102.95 L840.83,101.75 L842.33,100.59 L843.87,99.46 L845.43,98.36 L847.02,97.3 L848.64,96.28 L850.29,95.29 L851.96,94.34 L853.67,93.43 L855.4,92.55 L857.16,91.72 L858.94,90.93 L860.75,90.18 L862.59,89.47 L864.44,88.81 L866.33,88.18 L868.24,87.61 L870.17,87.07 L872.12,86.59 L874.1,86.15 L876.1,85.76 L878.12,85.41 L880.16,85.12 L882.22,84.88 L884.3,84.68 L886.4,84.54 L888.53,84.5 L890.67,84.5 L892.83,84.5 L895,84.5 L1060,84.5" stroke="#3333ff" stroke-width="4.2" />
<path d="M187,844.4 L301.6,844.4 L303.66,844 L305.73,843.62 L307.79,843.27 L309.85,842.93 L311.9,842.62 L313.95,842.32 L316,842.05 L318.05,841.79 L320.09,841.54 L322.13,841.32 L324.17,841.1 L326.2,840.9 L328.24,840.71 L330.26,840.52 L332.29,840.35 L334.31,840.19 L336.33,840.03 L338.34,839.88 L340.35,839.73 L342.36,839.59 L344.36,839.45 L346.36,839.31 L348.36,839.17 L350.35,839.03 L352.34,838.88 L354.33,838.74 L356.31,838.58 L358.28,838.43 L360.26,838.26 L362.23,838.09 L364.19,837.91 L366.15,837.72 L368.11,837.52 L370.06,837.31 L372.01,837.08 L373.95,836.84 L375.89,836.58 L377.82,836.3 L379.75,836.01 L381.68,835.7 L383.6,835.37 L385.51,835.01 L387.42,834.64 L389.33,834.24 L391.23,833.81 L393.13,833.37 L395.02,832.89 L396.9,832.4 L398.78,831.88 L400.66,831.34 L402.53,830.78 L404.4,830.2 L406.26,829.59 L408.11,828.96 L409.96,828.31 L411.8,827.65 L413.64,826.96 L415.47,826.25 L417.3,825.52 L419.12,824.77 L420.94,824 L422.75,823.21 L424.55,822.41 L426.35,821.58 L428.14,820.74 L429.93,819.88 L431.71,819 L433.48,818.11 L435.25,817.19 L437.01,816.27 L438.76,815.32 L440.51,814.36 L442.25,813.39 L443.99,812.4 L445.72,811.39 L447.44,810.37 L449.16,809.33 L450.87,808.28 L452.57,807.22 L454.26,806.14 L455.95,805.05 L457.64,803.95 L459.31,802.84 L460.98,801.71 L462.64,800.57 L464.29,799.42 L465.94,798.25 L467.58,797.08 L469.21,795.9 L470.84,794.7 L472.46,793.49 L474.07,792.28 L475.68,791.05 L477.27,789.82 L478.87,788.57 L480.45,787.32 L482.03,786.05 L483.6,784.78 L485.17,783.5 L486.73,782.21 L488.28,780.92 L489.83,779.61 L491.37,778.3 L492.91,776.98 L494.44,775.65 L495.97,774.32 L497.48,772.98 L499,771.63 L500.51,770.28 L502.01,768.92 L503.5,767.55 L505,766.18 L506.48,764.8 L507.96,763.42 L509.44,762.04 L510.91,760.65 L512.37,759.25 L513.84,757.85 L515.29,756.45 L516.74,755.04 L518.19,753.63 L519.63,752.22 L521.07,750.81 L522.5,749.39 L523.93,747.97 L525.35,746.54 L526.77,745.12 L528.19,743.69 L529.6,742.26 L531,740.82 L532.4,739.38 L533.8,737.94 L535.19,736.5 L536.57,735.05 L537.95,733.6 L539.33,732.15 L540.69,730.69 L542.06,729.23 L543.41,727.76 L544.76,726.29 L546.11,724.82 L547.44,723.34 L548.77,721.86 L550.1,720.37 L551.42,718.88 L552.73,717.39 L554.03,715.89 L555.33,714.38 L556.62,712.87 L557.9,711.36 L559.18,709.84 L560.44,708.31 L561.7,706.78 L562.96,705.25 L564.2,703.71 L565.44,702.16 L566.67,700.61 L567.89,699.05 L569.1,697.49 L570.3,695.92 L571.5,694.34 L572.69,692.76 L573.87,691.18 L575.04,689.58 L576.2,687.99 L577.36,686.38 L578.51,684.78 L579.65,683.16 L580.78,681.54 L581.91,679.92 L583.03,678.29 L584.14,676.65 L585.24,675.01 L586.34,673.37 L587.43,671.72 L588.51,670.06 L589.58,668.4 L590.65,666.74 L591.71,665.07 L592.77,663.39 L593.81,661.71 L594.85,660.03 L595.89,658.34 L596.92,656.65 L597.94,654.95 L598.95,653.24 L599.96,651.54 L600.96,649.83 L601.96,648.11 L602.94,646.39 L603.93,644.67 L604.9,642.94 L605.88,641.21 L606.84,639.47 L607.8,637.73 L608.75,635.99 L609.7,634.24 L610.64,632.49 L611.58,630.73 L612.51,628.97 L613.44,627.21 L614.36,625.44 L615.27,623.67 L616.18,621.9 L617.09,620.12 L617.99,618.34 L618.88,616.56 L619.77,614.77 L620.66,612.98 L621.54,611.19 L622.41,609.39 L623.28,607.59 L624.15,605.79 L625.01,603.98 L625.86,602.17 L626.72,600.36 L627.57,598.54 L628.41,596.73 L629.25,594.91 L630.08,593.08 L630.92,591.26 L631.74,589.43 L632.57,587.6 L633.39,585.77 L634.2,583.93 L635.01,582.09 L635.82,580.25 L636.63,578.41 L637.43,576.56 L638.23,574.72 L639.02,572.87 L639.81,571.02 L640.6,569.16 L641.38,567.31 L642.17,565.45 L642.94,563.59 L643.72,561.73 L644.49,559.87 L645.26,558.01 L646.03,556.14 L646.79,554.27 L647.56,552.41 L648.32,550.54 L649.07,548.66 L649.83,546.79 L650.58,544.92 L651.33,543.04 L652.08,541.16 L652.82,539.29 L653.56,537.41 L654.3,535.53 L655.04,533.65 L655.78,531.76 L656.52,529.88 L657.25,528 L657.98,526.11 L658.71,524.23 L659.44,522.34 L660.17,520.45 L660.89,518.57 L661.62,516.68 L662.34,514.79 L663.07,512.9 L663.79,511.01 L664.51,509.12 L665.23,507.23 L665.94,505.34 L666.66,503.45 L667.38,501.56 L668.09,499.67 L668.81,497.78 L669.52,495.89 L670.24,494 L670.95,492.11 L671.66,490.22 L672.37,488.33 L673.09,486.44 L673.8,484.55 L674.51,482.66 L675.22,480.78 L675.94,478.89 L676.65,477 L677.36,475.12 L678.07,473.23 L678.79,471.35 L679.5,469.46 L680.21,467.58 L680.93,465.69 L681.64,463.81 L682.36,461.93 L683.07,460.05 L683.79,458.17 L684.51,456.3 L685.23,454.42 L685.95,452.55 L686.67,450.67 L687.39,448.8 L688.11,446.93 L688.83,445.06 L689.56,443.19 L690.28,441.32 L691.01,439.45 L691.73,437.58 L692.46,435.72 L693.19,433.85 L693.91,431.99 L694.64,430.12 L695.37,428.26 L696.1,426.4 L696.84,424.54 L697.57,422.68 L698.3,420.82 L699.04,418.96 L699.77,417.11 L700.51,415.25 L701.24,413.4 L701.98,411.54 L702.72,409.69 L703.46,407.84 L704.2,405.99 L704.94,404.14 L705.68,402.29 L706.43,400.44 L707.17,398.59 L707.92,396.74 L708.66,394.9 L709.41,393.05 L710.16,391.21 L710.9,389.36 L711.65,387.52 L712.4,385.68 L713.16,383.83 L713.91,381.99 L714.66,380.15 L715.41,378.31 L716.17,376.47 L716.93,374.63 L717.68,372.8 L718.44,370.96 L719.2,369.12 L719.96,367.29 L720.72,365.45 L721.48,363.62 L722.24,361.79 L723.01,359.95 L723.77,358.12 L724.54,356.29 L725.3,354.46 L726.07,352.63 L726.84,350.8 L727.61,348.97 L728.38,347.14 L729.15,345.31 L729.93,343.48 L730.7,341.65 L731.47,339.83 L732.25,338 L733.03,336.18 L733.8,334.35 L734.58,332.53 L735.36,330.7 L736.14,328.88 L736.92,327.06 L737.71,325.23 L738.49,323.41 L739.28,321.59 L740.06,319.77 L740.85,317.95 L741.64,316.12 L742.43,314.3 L743.22,312.48 L744.01,310.66 L744.8,308.85 L745.59,307.03 L746.39,305.21 L747.18,303.39 L747.98,301.57 L748.78,299.75 L749.58,297.93 L750.38,296.12 L751.18,294.3 L751.98,292.48 L752.78,290.66 L753.59,288.84 L754.39,287.03 L755.2,285.21 L756.01,283.39 L756.82,281.57 L757.63,279.75 L758.44,277.93 L759.25,276.12 L760.06,274.3 L760.88,272.48 L761.69,270.66 L762.51,268.84 L763.33,267.02 L764.15,265.2 L764.97,263.38 L765.79,261.56 L766.61,259.74 L767.44,257.91 L768.26,256.09 L769.09,254.27 L769.92,252.44 L770.74,250.62 L771.57,248.8 L772.4,246.97 L773.24,245.15 L774.07,243.32 L774.9,241.49 L775.74,239.66 L776.58,237.84 L777.42,236.01 L778.25,234.18 L779.1,232.35 L779.94,230.51 L780.78,228.68 L781.62,226.85 L782.47,225.01 L783.32,223.18 L784.16,221.34 L785.01,219.5 L785.86,217.67 L786.72,215.83 L787.57,213.99 L788.42,212.14 L789.28,210.3 L790.14,208.46 L790.99,206.61 L791.85,204.77 L792.71,202.92 L793.58,201.07 L794.44,199.22 L795.3,197.37 L796.17,195.52 L797.04,193.66 L797.9,191.81 L798.77,189.95 L799.65,188.09 L800.52,186.23 L801.39,184.37 L802.27,182.51 L803.14,180.65 L804.02,178.78 L804.9,176.92 L805.78,175.05 L806.67,173.18 L807.55,171.32 L808.44,169.45 L809.34,167.59 L810.24,165.73 L811.14,163.88 L812.05,162.03 L812.97,160.19 L813.89,158.35 L814.82,156.52 L815.76,154.69 L816.71,152.88 L817.66,151.07 L818.62,149.27 L819.59,147.48 L820.58,145.7 L821.57,143.94 L822.57,142.18 L823.59,140.44 L824.61,138.71 L825.65,137 L826.7,135.3 L827.77,133.62 L828.84,131.95 L829.94,130.3 L831.04,128.67 L832.17,127.05 L833.3,125.46 L834.46,123.88 L835.63,122.33 L836.81,120.79 L838.02,119.28 L839.24,117.79 L840.48,116.32 L841.74,114.88 L843.02,113.46 L844.32,112.07 L845.64,110.7 L846.98,109.36 L848.34,108.05 L849.73,106.76 L851.13,105.5 L852.56,104.27 L854.01,103.08 L855.49,101.91 L856.99,100.77 L858.51,99.67 L860.06,98.6 L861.64,97.56 L863.24,96.56 L864.86,95.59 L866.51,94.66 L868.19,93.76 L869.9,92.9 L871.63,92.08 L873.39,91.29 L875.17,90.55 L876.99,89.84 L878.83,89.17 L880.7,88.55 L882.6,87.97 L884.52,87.43 L886.48,86.93 L888.47,86.48 L890.48,86.07 L892.53,85.7 L894.6,85.39 L896.71,85.11 L898.85,84.89 L901.02,84.71 L903.22,84.59 L905.45,84.51 L907.71,84.5 L910.01,84.5 L1061,84.5" stroke="#cc0000" stroke-width="4.6" />
</g>
<rect x="250.8" y="91.5" width="398.3" height="361.8" fill="#fff" stroke="none"/>
<line x1="250.8" y1="151.63" x2="649.1" y2="151.63" stroke="#555" stroke-width="1.7" stroke-dasharray="14 8.6" stroke-dashoffset="8.6"/>
<clipPath id="ic"><rect x="250.8" y="91.5" width="398.3" height="361.8"/></clipPath>
<g fill="none" stroke-linejoin="round" clip-path="url(#ic)">
<path d="M250,414 C264.47,407.5 313.17,386.4 336.8,375 C360.43,363.6 375.28,354.78 391.8,345.6 C408.32,336.42 421.22,329.07 435.9,319.9 C450.58,310.73 465.83,300.38 479.9,290.6 C493.97,280.82 506.83,272.22 520.3,261.2 C533.77,250.18 547.85,237.97 560.7,224.5 C573.55,211.03 586.4,192.63 597.4,180.4 C608.4,168.17 617.93,160.42 626.7,151.1 C635.47,141.78 646.12,128.93 650,124.5" stroke="#ff9f55" stroke-width="2.9" stroke-linecap="round" stroke-dasharray="9 4 0.1 4 0.1 4"/>
<path d="M250,414 C263.23,407.18 307.6,385.42 329.4,373.1 C351.2,360.78 365.5,349.27 380.8,340.1 C396.1,330.93 405.9,326.97 421.2,318.1 C436.5,309.23 455.47,299.45 472.6,286.9 C489.73,274.35 509.32,255.35 524,242.8 C538.68,230.25 545.42,226.58 560.7,211.6 C575.98,196.62 600.82,169 615.7,152.9 C630.58,136.8 644.28,121.32 650,115" stroke="#00cc00" stroke-width="3.1" stroke-linecap="round" stroke-dasharray="9 8"/>
<path d="M250,410.5 C257.12,407.03 279.47,396.23 292.7,389.7 C305.93,383.17 314.72,379.87 329.4,371.3 C344.08,362.73 365.5,347.78 380.8,338.3 C396.1,328.82 405.9,323.58 421.2,314.4 C436.5,305.22 455.47,295.73 472.6,283.2 C489.73,270.67 509.32,252.35 524,239.2 C538.68,226.05 546.63,218.98 560.7,204.3 C574.77,189.62 593.52,168.73 608.4,151.1 C623.28,133.47 643.07,107.27 650,98.5" stroke="#3333ff" stroke-width="3.1" stroke-linecap="round" stroke-dasharray="9 6 0.1 6"/>
<path d="M250,407 C257.12,403.5 281.3,392.87 292.7,386 C304.1,379.13 308,374.37 318.4,365.8 C328.8,357.23 339.8,348.07 355.1,334.6 C370.4,321.13 391.85,302.13 410.2,285 C428.55,267.87 446.85,248.62 465.2,231.8 C483.55,214.98 504.38,197.55 520.3,184.1 C536.22,170.65 548.47,161.5 560.7,151.1 C572.93,140.7 582.7,131.5 593.7,121.7 C604.7,111.9 620.82,97.58 626.7,92.3 C632.58,87.02 628.62,90.38 629,90" stroke="#000000" stroke-width="3.4" />
<path d="M250,377.5 C261.4,369.13 300.88,340.57 318.4,327.3 C335.92,314.03 341.63,310.15 355.1,297.9 C368.57,285.65 384.52,267.87 399.2,253.8 C413.88,239.73 429.75,226.33 443.2,213.5 C456.65,200.67 470.12,187.2 479.9,176.8 C489.68,166.4 493.33,160.9 501.9,151.1 C510.47,141.3 521.82,127.8 531.3,118 C540.78,108.2 553.85,96.97 558.8,92.3 C563.75,87.63 560.63,90.38 561,90" stroke="#4d4d00" stroke-width="2.9" />
<path d="M250,381.5 C252.23,380.42 250.77,383.43 263.4,375 C276.03,366.57 310.52,342.22 325.8,330.9 C341.08,319.58 344.1,316.88 355.1,307.1 C366.1,297.32 379.57,284.13 391.8,272.2 C404.03,260.27 418.72,245.28 428.5,235.5 C438.28,225.72 441.93,223.28 450.5,213.5 C459.07,203.72 471.33,187.2 479.9,176.8 C488.47,166.4 494.57,160.58 501.9,151.1 C509.23,141.62 516.55,129.7 523.9,119.9 C531.25,110.1 541.98,97.28 546,92.3 C550.02,87.32 547.67,90.38 548,90" stroke="#3333ff" stroke-width="3.3" />
<path d="M250,368.5 C260.18,361.02 294.2,335.37 311.1,323.6 C328,311.83 337.95,308.92 351.4,297.9 C364.85,286.88 380.17,269.12 391.8,257.5 C403.43,245.88 411.42,238.6 421.2,228.2 C430.98,217.8 439.48,207.65 450.5,195.1 C461.52,182.55 473.83,168.8 487.3,152.9 C500.77,137 522.68,110.18 531.3,99.7 C539.92,89.22 537.72,91.62 539,90" stroke="#00ffff" stroke-width="3.1" />
<path d="M250,366.5 C252.23,365.47 250.77,368.68 263.4,360.3 C276.03,351.92 311.13,327.52 325.8,316.2 C340.47,304.88 344.07,299.12 351.4,292.4 C358.73,285.68 363.07,282.33 369.8,275.9 C376.53,269.47 383.85,261.45 391.8,253.8 C399.75,246.15 407.72,240.4 417.5,230 C427.28,219.6 439.48,203.95 450.5,191.4 C461.52,178.85 468.92,171.22 483.6,154.7 C498.28,138.18 529.2,103.08 538.6,92.3 C548,81.52 539.77,90.38 540,90" stroke="#cc0000" stroke-width="3.1" />
<path d="M250,342 C255.28,338.32 262.95,333.37 281.7,319.9 C300.45,306.43 339.25,278.93 362.5,261.2 C385.75,243.47 406.53,225.13 421.2,213.5 C435.87,201.87 439.48,201.2 450.5,191.4 C461.52,181.6 473.83,170.6 487.3,154.7 C500.77,138.8 523.35,106.78 531.3,96 C539.25,85.22 534.38,91 535,90" stroke="#ff00ff" stroke-width="2.9" />
<path d="M250,322.5 C251.62,322.07 248.92,325.83 259.7,319.9 C270.48,313.97 297.57,298.22 314.7,286.9 C331.83,275.58 348.42,262.1 362.5,252 C376.58,241.9 386.97,235.17 399.2,226.3 C411.43,217.43 427.35,206.13 435.9,198.8 C444.45,191.47 444.38,189.95 450.5,182.3 C456.62,174.65 464.03,163.62 472.6,152.9 C481.17,142.18 493.95,127.78 501.9,118 C509.85,108.22 516.78,98.87 520.3,94.2 C523.82,89.53 522.55,90.7 523,90" stroke="#5a5a5a" stroke-width="3.3" />
</g>
<rect x="250.8" y="91.5" width="398.3" height="361.8" fill="none" stroke="#000" stroke-width="2"/>
<line x1="252.22" y1="453.3" x2="252.22" y2="447.3" stroke="#222" stroke-width="1.4" />
<line x1="252.22" y1="91.5" x2="252.22" y2="97.5" stroke="#222" stroke-width="1.4" />
<line x1="262.5" y1="453.3" x2="262.5" y2="443.8" stroke="#000" stroke-width="2" />
<line x1="262.5" y1="91.5" x2="262.5" y2="101" stroke="#000" stroke-width="2" />
<line x1="272.78" y1="453.3" x2="272.78" y2="447.3" stroke="#222" stroke-width="1.4" />
<line x1="272.78" y1="91.5" x2="272.78" y2="97.5" stroke="#222" stroke-width="1.4" />
<line x1="283.07" y1="453.3" x2="283.07" y2="447.3" stroke="#222" stroke-width="1.4" />
<line x1="283.07" y1="91.5" x2="283.07" y2="97.5" stroke="#222" stroke-width="1.4" />
<line x1="293.35" y1="453.3" x2="293.35" y2="447.3" stroke="#222" stroke-width="1.4" />
<line x1="293.35" y1="91.5" x2="293.35" y2="97.5" stroke="#222" stroke-width="1.4" />
<line x1="303.64" y1="453.3" x2="303.64" y2="447.3" stroke="#222" stroke-width="1.4" />
<line x1="303.64" y1="91.5" x2="303.64" y2="97.5" stroke="#222" stroke-width="1.4" />
<line x1="313.92" y1="453.3" x2="313.92" y2="443.8" stroke="#000" stroke-width="2" />
<line x1="313.92" y1="91.5" x2="313.92" y2="101" stroke="#000" stroke-width="2" />
<line x1="324.2" y1="453.3" x2="324.2" y2="447.3" stroke="#222" stroke-width="1.4" />
<line x1="324.2" y1="91.5" x2="324.2" y2="97.5" stroke="#222" stroke-width="1.4" />
<line x1="334.49" y1="453.3" x2="334.49" y2="447.3" stroke="#222" stroke-width="1.4" />
<line x1="334.49" y1="91.5" x2="334.49" y2="97.5" stroke="#222" stroke-width="1.4" />
<line x1="344.77" y1="453.3" x2="344.77" y2="447.3" stroke="#222" stroke-width="1.4" />
<line x1="344.77" y1="91.5" x2="344.77" y2="97.5" stroke="#222" stroke-width="1.4" />
<line x1="355.06" y1="453.3" x2="355.06" y2="447.3" stroke="#222" stroke-width="1.4" />
<line x1="355.06" y1="91.5" x2="355.06" y2="97.5" stroke="#222" stroke-width="1.4" />
<line x1="365.34" y1="453.3" x2="365.34" y2="443.8" stroke="#000" stroke-width="2" />
<line x1="365.34" y1="91.5" x2="365.34" y2="101" stroke="#000" stroke-width="2" />
<line x1="375.62" y1="453.3" x2="375.62" y2="447.3" stroke="#222" stroke-width="1.4" />
<line x1="375.62" y1="91.5" x2="375.62" y2="97.5" stroke="#222" stroke-width="1.4" />
<line x1="385.91" y1="453.3" x2="385.91" y2="447.3" stroke="#222" stroke-width="1.4" />
<line x1="385.91" y1="91.5" x2="385.91" y2="97.5" stroke="#222" stroke-width="1.4" />
<line x1="396.19" y1="453.3" x2="396.19" y2="447.3" stroke="#222" stroke-width="1.4" />
<line x1="396.19" y1="91.5" x2="396.19" y2="97.5" stroke="#222" stroke-width="1.4" />
<line x1="406.48" y1="453.3" x2="406.48" y2="447.3" stroke="#222" stroke-width="1.4" />
<line x1="406.48" y1="91.5" x2="406.48" y2="97.5" stroke="#222" stroke-width="1.4" />
<line x1="416.76" y1="453.3" x2="416.76" y2="443.8" stroke="#000" stroke-width="2" />
<line x1="416.76" y1="91.5" x2="416.76" y2="101" stroke="#000" stroke-width="2" />
<line x1="427.04" y1="453.3" x2="427.04" y2="447.3" stroke="#222" stroke-width="1.4" />
<line x1="427.04" y1="91.5" x2="427.04" y2="97.5" stroke="#222" stroke-width="1.4" />
<line x1="437.33" y1="453.3" x2="437.33" y2="447.3" stroke="#222" stroke-width="1.4" />
<line x1="437.33" y1="91.5" x2="437.33" y2="97.5" stroke="#222" stroke-width="1.4" />
<line x1="447.61" y1="453.3" x2="447.61" y2="447.3" stroke="#222" stroke-width="1.4" />
<line x1="447.61" y1="91.5" x2="447.61" y2="97.5" stroke="#222" stroke-width="1.4" />
<line x1="457.9" y1="453.3" x2="457.9" y2="447.3" stroke="#222" stroke-width="1.4" />
<line x1="457.9" y1="91.5" x2="457.9" y2="97.5" stroke="#222" stroke-width="1.4" />
<line x1="468.18" y1="453.3" x2="468.18" y2="443.8" stroke="#000" stroke-width="2" />
<line x1="468.18" y1="91.5" x2="468.18" y2="101" stroke="#000" stroke-width="2" />
<line x1="478.46" y1="453.3" x2="478.46" y2="447.3" stroke="#222" stroke-width="1.4" />
<line x1="478.46" y1="91.5" x2="478.46" y2="97.5" stroke="#222" stroke-width="1.4" />
<line x1="488.75" y1="453.3" x2="488.75" y2="447.3" stroke="#222" stroke-width="1.4" />
<line x1="488.75" y1="91.5" x2="488.75" y2="97.5" stroke="#222" stroke-width="1.4" />
<line x1="499.03" y1="453.3" x2="499.03" y2="447.3" stroke="#222" stroke-width="1.4" />
<line x1="499.03" y1="91.5" x2="499.03" y2="97.5" stroke="#222" stroke-width="1.4" />
<line x1="509.32" y1="453.3" x2="509.32" y2="447.3" stroke="#222" stroke-width="1.4" />
<line x1="509.32" y1="91.5" x2="509.32" y2="97.5" stroke="#222" stroke-width="1.4" />
<line x1="519.6" y1="453.3" x2="519.6" y2="443.8" stroke="#000" stroke-width="2" />
<line x1="519.6" y1="91.5" x2="519.6" y2="101" stroke="#000" stroke-width="2" />
<line x1="529.88" y1="453.3" x2="529.88" y2="447.3" stroke="#222" stroke-width="1.4" />
<line x1="529.88" y1="91.5" x2="529.88" y2="97.5" stroke="#222" stroke-width="1.4" />
<line x1="540.17" y1="453.3" x2="540.17" y2="447.3" stroke="#222" stroke-width="1.4" />
<line x1="540.17" y1="91.5" x2="540.17" y2="97.5" stroke="#222" stroke-width="1.4" />
<line x1="550.45" y1="453.3" x2="550.45" y2="447.3" stroke="#222" stroke-width="1.4" />
<line x1="550.45" y1="91.5" x2="550.45" y2="97.5" stroke="#222" stroke-width="1.4" />
<line x1="560.74" y1="453.3" x2="560.74" y2="447.3" stroke="#222" stroke-width="1.4" />
<line x1="560.74" y1="91.5" x2="560.74" y2="97.5" stroke="#222" stroke-width="1.4" />
<line x1="571.02" y1="453.3" x2="571.02" y2="443.8" stroke="#000" stroke-width="2" />
<line x1="571.02" y1="91.5" x2="571.02" y2="101" stroke="#000" stroke-width="2" />
<line x1="581.3" y1="453.3" x2="581.3" y2="447.3" stroke="#222" stroke-width="1.4" />
<line x1="581.3" y1="91.5" x2="581.3" y2="97.5" stroke="#222" stroke-width="1.4" />
<line x1="591.59" y1="453.3" x2="591.59" y2="447.3" stroke="#222" stroke-width="1.4" />
<line x1="591.59" y1="91.5" x2="591.59" y2="97.5" stroke="#222" stroke-width="1.4" />
<line x1="601.87" y1="453.3" x2="601.87" y2="447.3" stroke="#222" stroke-width="1.4" />
<line x1="601.87" y1="91.5" x2="601.87" y2="97.5" stroke="#222" stroke-width="1.4" />
<line x1="612.16" y1="453.3" x2="612.16" y2="447.3" stroke="#222" stroke-width="1.4" />
<line x1="612.16" y1="91.5" x2="612.16" y2="97.5" stroke="#222" stroke-width="1.4" />
<line x1="622.44" y1="453.3" x2="622.44" y2="443.8" stroke="#000" stroke-width="2" />
<line x1="622.44" y1="91.5" x2="622.44" y2="101" stroke="#000" stroke-width="2" />
<line x1="632.72" y1="453.3" x2="632.72" y2="447.3" stroke="#222" stroke-width="1.4" />
<line x1="632.72" y1="91.5" x2="632.72" y2="97.5" stroke="#222" stroke-width="1.4" />
<line x1="643.01" y1="453.3" x2="643.01" y2="447.3" stroke="#222" stroke-width="1.4" />
<line x1="643.01" y1="91.5" x2="643.01" y2="97.5" stroke="#222" stroke-width="1.4" />
<line x1="250.8" y1="453.3" x2="260.8" y2="453.3" stroke="#000" stroke-width="2" />
<line x1="649.1" y1="453.3" x2="639.1" y2="453.3" stroke="#000" stroke-width="2" />
<line x1="250.8" y1="441.23" x2="256.8" y2="441.23" stroke="#222" stroke-width="1.4" />
<line x1="649.1" y1="441.23" x2="643.1" y2="441.23" stroke="#222" stroke-width="1.4" />
<line x1="250.8" y1="429.17" x2="256.8" y2="429.17" stroke="#222" stroke-width="1.4" />
<line x1="649.1" y1="429.17" x2="643.1" y2="429.17" stroke="#222" stroke-width="1.4" />
<line x1="250.8" y1="417.1" x2="256.8" y2="417.1" stroke="#222" stroke-width="1.4" />
<line x1="649.1" y1="417.1" x2="643.1" y2="417.1" stroke="#222" stroke-width="1.4" />
<line x1="250.8" y1="405.03" x2="256.8" y2="405.03" stroke="#222" stroke-width="1.4" />
<line x1="649.1" y1="405.03" x2="643.1" y2="405.03" stroke="#222" stroke-width="1.4" />
<line x1="250.8" y1="392.97" x2="260.8" y2="392.97" stroke="#000" stroke-width="2" />
<line x1="649.1" y1="392.97" x2="639.1" y2="392.97" stroke="#000" stroke-width="2" />
<line x1="250.8" y1="380.9" x2="256.8" y2="380.9" stroke="#222" stroke-width="1.4" />
<line x1="649.1" y1="380.9" x2="643.1" y2="380.9" stroke="#222" stroke-width="1.4" />
<line x1="250.8" y1="368.83" x2="256.8" y2="368.83" stroke="#222" stroke-width="1.4" />
<line x1="649.1" y1="368.83" x2="643.1" y2="368.83" stroke="#222" stroke-width="1.4" />
<line x1="250.8" y1="356.77" x2="256.8" y2="356.77" stroke="#222" stroke-width="1.4" />
<line x1="649.1" y1="356.77" x2="643.1" y2="356.77" stroke="#222" stroke-width="1.4" />
<line x1="250.8" y1="344.7" x2="256.8" y2="344.7" stroke="#222" stroke-width="1.4" />
<line x1="649.1" y1="344.7" x2="643.1" y2="344.7" stroke="#222" stroke-width="1.4" />
<line x1="250.8" y1="332.63" x2="260.8" y2="332.63" stroke="#000" stroke-width="2" />
<line x1="649.1" y1="332.63" x2="639.1" y2="332.63" stroke="#000" stroke-width="2" />
<line x1="250.8" y1="320.57" x2="256.8" y2="320.57" stroke="#222" stroke-width="1.4" />
<line x1="649.1" y1="320.57" x2="643.1" y2="320.57" stroke="#222" stroke-width="1.4" />
<line x1="250.8" y1="308.5" x2="256.8" y2="308.5" stroke="#222" stroke-width="1.4" />
<line x1="649.1" y1="308.5" x2="643.1" y2="308.5" stroke="#222" stroke-width="1.4" />
<line x1="250.8" y1="296.43" x2="256.8" y2="296.43" stroke="#222" stroke-width="1.4" />
<line x1="649.1" y1="296.43" x2="643.1" y2="296.43" stroke="#222" stroke-width="1.4" />
<line x1="250.8" y1="284.36" x2="256.8" y2="284.36" stroke="#222" stroke-width="1.4" />
<line x1="649.1" y1="284.36" x2="643.1" y2="284.36" stroke="#222" stroke-width="1.4" />
<line x1="250.8" y1="272.3" x2="260.8" y2="272.3" stroke="#000" stroke-width="2" />
<line x1="649.1" y1="272.3" x2="639.1" y2="272.3" stroke="#000" stroke-width="2" />
<line x1="250.8" y1="260.23" x2="256.8" y2="260.23" stroke="#222" stroke-width="1.4" />
<line x1="649.1" y1="260.23" x2="643.1" y2="260.23" stroke="#222" stroke-width="1.4" />
<line x1="250.8" y1="248.16" x2="256.8" y2="248.16" stroke="#222" stroke-width="1.4" />
<line x1="649.1" y1="248.16" x2="643.1" y2="248.16" stroke="#222" stroke-width="1.4" />
<line x1="250.8" y1="236.1" x2="256.8" y2="236.1" stroke="#222" stroke-width="1.4" />
<line x1="649.1" y1="236.1" x2="643.1" y2="236.1" stroke="#222" stroke-width="1.4" />
<line x1="250.8" y1="224.03" x2="256.8" y2="224.03" stroke="#222" stroke-width="1.4" />
<line x1="649.1" y1="224.03" x2="643.1" y2="224.03" stroke="#222" stroke-width="1.4" />
<line x1="250.8" y1="211.96" x2="260.8" y2="211.96" stroke="#000" stroke-width="2" />
<line x1="649.1" y1="211.96" x2="639.1" y2="211.96" stroke="#000" stroke-width="2" />
<line x1="250.8" y1="199.9" x2="256.8" y2="199.9" stroke="#222" stroke-width="1.4" />
<line x1="649.1" y1="199.9" x2="643.1" y2="199.9" stroke="#222" stroke-width="1.4" />
<line x1="250.8" y1="187.83" x2="256.8" y2="187.83" stroke="#222" stroke-width="1.4" />
<line x1="649.1" y1="187.83" x2="643.1" y2="187.83" stroke="#222" stroke-width="1.4" />
<line x1="250.8" y1="175.76" x2="256.8" y2="175.76" stroke="#222" stroke-width="1.4" />
<line x1="649.1" y1="175.76" x2="643.1" y2="175.76" stroke="#222" stroke-width="1.4" />
<line x1="250.8" y1="163.7" x2="256.8" y2="163.7" stroke="#222" stroke-width="1.4" />
<line x1="649.1" y1="163.7" x2="643.1" y2="163.7" stroke="#222" stroke-width="1.4" />
<line x1="250.8" y1="151.63" x2="260.8" y2="151.63" stroke="#000" stroke-width="2" />
<line x1="649.1" y1="151.63" x2="639.1" y2="151.63" stroke="#000" stroke-width="2" />
<line x1="250.8" y1="139.56" x2="256.8" y2="139.56" stroke="#222" stroke-width="1.4" />
<line x1="649.1" y1="139.56" x2="643.1" y2="139.56" stroke="#222" stroke-width="1.4" />
<line x1="250.8" y1="127.5" x2="256.8" y2="127.5" stroke="#222" stroke-width="1.4" />
<line x1="649.1" y1="127.5" x2="643.1" y2="127.5" stroke="#222" stroke-width="1.4" />
<line x1="250.8" y1="115.43" x2="256.8" y2="115.43" stroke="#222" stroke-width="1.4" />
<line x1="649.1" y1="115.43" x2="643.1" y2="115.43" stroke="#222" stroke-width="1.4" />
<line x1="250.8" y1="103.36" x2="256.8" y2="103.36" stroke="#222" stroke-width="1.4" />
<line x1="649.1" y1="103.36" x2="643.1" y2="103.36" stroke="#222" stroke-width="1.4" />
<line x1="250.8" y1="91.3" x2="260.8" y2="91.3" stroke="#000" stroke-width="2" />
<line x1="649.1" y1="91.3" x2="639.1" y2="91.3" stroke="#000" stroke-width="2" />
<text x="245.1" y="464.6" font-size="33.5" text-anchor="end" letter-spacing="1.0">0</text>
<text x="245.1" y="404.27" font-size="33.5" text-anchor="end" letter-spacing="1.0">0.02</text>
<text x="245.1" y="343.93" font-size="33.5" text-anchor="end" letter-spacing="1.0">0.04</text>
<text x="245.1" y="283.6" font-size="33.5" text-anchor="end" letter-spacing="1.0">0.06</text>
<text x="245.1" y="223.26" font-size="33.5" text-anchor="end" letter-spacing="1.0">0.08</text>
<text x="245.1" y="162.93" font-size="33.5" text-anchor="end" letter-spacing="1.0">0.1</text>
<text x="245.1" y="102.6" font-size="33.5" text-anchor="end" letter-spacing="1.0">0.12</text>
<text x="262.3" y="481.6" font-size="33.5" text-anchor="middle" letter-spacing="0.8">32</text>
<text x="313.72" y="481.6" font-size="33.5" text-anchor="middle" letter-spacing="0.8">34</text>
<text x="365.14" y="481.6" font-size="33.5" text-anchor="middle" letter-spacing="0.8">36</text>
<text x="416.56" y="481.6" font-size="33.5" text-anchor="middle" letter-spacing="0.8">38</text>
<text x="467.98" y="481.6" font-size="33.5" text-anchor="middle" letter-spacing="0.8">40</text>
<text x="519.4" y="481.6" font-size="33.5" text-anchor="middle" letter-spacing="0.8">42</text>
<text x="570.82" y="481.6" font-size="33.5" text-anchor="middle" letter-spacing="0.8">44</text>
<text x="622.24" y="481.6" font-size="33.5" text-anchor="middle" letter-spacing="0.8">46</text>
<text x="449" y="510.8" font-size="37.8" text-anchor="middle" >Time (ms)</text>
<text x="637" y="270.5" font-size="38.5" text-anchor="middle" letter-spacing="-0.8" transform="rotate(-90 637 270.5)">NCHR</text>
<g stroke="#000" stroke-linecap="round">
<line x1="163.6" y1="881" x2="163.6" y2="862" stroke="#000" stroke-width="4" />
<line x1="163.6" y1="46.7" x2="163.6" y2="66.7" stroke="#000" stroke-width="4" />
<line x1="197.08" y1="881" x2="197.08" y2="870" stroke="#777" stroke-width="1.6" stroke-linecap="butt"/>
<line x1="197.08" y1="46.7" x2="197.08" y2="58.7" stroke="#777" stroke-width="1.6" stroke-linecap="butt"/>
<line x1="230.57" y1="881" x2="230.57" y2="870" stroke="#777" stroke-width="1.6" stroke-linecap="butt"/>
<line x1="230.57" y1="46.7" x2="230.57" y2="58.7" stroke="#777" stroke-width="1.6" stroke-linecap="butt"/>
<line x1="264.05" y1="881" x2="264.05" y2="870" stroke="#777" stroke-width="1.6" stroke-linecap="butt"/>
<line x1="264.05" y1="46.7" x2="264.05" y2="58.7" stroke="#777" stroke-width="1.6" stroke-linecap="butt"/>
<line x1="297.54" y1="881" x2="297.54" y2="870" stroke="#777" stroke-width="1.6" stroke-linecap="butt"/>
<line x1="297.54" y1="46.7" x2="297.54" y2="58.7" stroke="#777" stroke-width="1.6" stroke-linecap="butt"/>
<line x1="331.02" y1="881" x2="331.02" y2="862" stroke="#000" stroke-width="4" />
<line x1="331.02" y1="46.7" x2="331.02" y2="66.7" stroke="#000" stroke-width="4" />
<line x1="364.5" y1="881" x2="364.5" y2="870" stroke="#777" stroke-width="1.6" stroke-linecap="butt"/>
<line x1="364.5" y1="46.7" x2="364.5" y2="58.7" stroke="#777" stroke-width="1.6" stroke-linecap="butt"/>
<line x1="397.99" y1="881" x2="397.99" y2="870" stroke="#777" stroke-width="1.6" stroke-linecap="butt"/>
<line x1="397.99" y1="46.7" x2="397.99" y2="58.7" stroke="#777" stroke-width="1.6" stroke-linecap="butt"/>
<line x1="431.47" y1="881" x2="431.47" y2="870" stroke="#777" stroke-width="1.6" stroke-linecap="butt"/>
<line x1="431.47" y1="46.7" x2="431.47" y2="58.7" stroke="#777" stroke-width="1.6" stroke-linecap="butt"/>
<line x1="464.96" y1="881" x2="464.96" y2="870" stroke="#777" stroke-width="1.6" stroke-linecap="butt"/>
<line x1="464.96" y1="46.7" x2="464.96" y2="58.7" stroke="#777" stroke-width="1.6" stroke-linecap="butt"/>
<line x1="498.44" y1="881" x2="498.44" y2="862" stroke="#000" stroke-width="4" />
<line x1="498.44" y1="46.7" x2="498.44" y2="66.7" stroke="#000" stroke-width="4" />
<line x1="531.92" y1="881" x2="531.92" y2="870" stroke="#777" stroke-width="1.6" stroke-linecap="butt"/>
<line x1="531.92" y1="46.7" x2="531.92" y2="58.7" stroke="#777" stroke-width="1.6" stroke-linecap="butt"/>
<line x1="565.41" y1="881" x2="565.41" y2="870" stroke="#777" stroke-width="1.6" stroke-linecap="butt"/>
<line x1="565.41" y1="46.7" x2="565.41" y2="58.7" stroke="#777" stroke-width="1.6" stroke-linecap="butt"/>
<line x1="598.89" y1="881" x2="598.89" y2="870" stroke="#777" stroke-width="1.6" stroke-linecap="butt"/>
<line x1="598.89" y1="46.7" x2="598.89" y2="58.7" stroke="#777" stroke-width="1.6" stroke-linecap="butt"/>
<line x1="632.38" y1="881" x2="632.38" y2="870" stroke="#777" stroke-width="1.6" stroke-linecap="butt"/>
<line x1="632.38" y1="46.7" x2="632.38" y2="58.7" stroke="#777" stroke-width="1.6" stroke-linecap="butt"/>
<line x1="665.86" y1="881" x2="665.86" y2="862" stroke="#000" stroke-width="4" />
<line x1="665.86" y1="46.7" x2="665.86" y2="66.7" stroke="#000" stroke-width="4" />
<line x1="699.34" y1="881" x2="699.34" y2="870" stroke="#777" stroke-width="1.6" stroke-linecap="butt"/>
<line x1="699.34" y1="46.7" x2="699.34" y2="58.7" stroke="#777" stroke-width="1.6" stroke-linecap="butt"/>
<line x1="732.83" y1="881" x2="732.83" y2="870" stroke="#777" stroke-width="1.6" stroke-linecap="butt"/>
<line x1="732.83" y1="46.7" x2="732.83" y2="58.7" stroke="#777" stroke-width="1.6" stroke-linecap="butt"/>
<line x1="766.31" y1="881" x2="766.31" y2="870" stroke="#777" stroke-width="1.6" stroke-linecap="butt"/>
<line x1="766.31" y1="46.7" x2="766.31" y2="58.7" stroke="#777" stroke-width="1.6" stroke-linecap="butt"/>
<line x1="799.8" y1="881" x2="799.8" y2="870" stroke="#777" stroke-width="1.6" stroke-linecap="butt"/>
<line x1="799.8" y1="46.7" x2="799.8" y2="58.7" stroke="#777" stroke-width="1.6" stroke-linecap="butt"/>
<line x1="833.28" y1="881" x2="833.28" y2="862" stroke="#000" stroke-width="4" />
<line x1="833.28" y1="46.7" x2="833.28" y2="66.7" stroke="#000" stroke-width="4" />
<line x1="866.76" y1="881" x2="866.76" y2="870" stroke="#777" stroke-width="1.6" stroke-linecap="butt"/>
<line x1="866.76" y1="46.7" x2="866.76" y2="58.7" stroke="#777" stroke-width="1.6" stroke-linecap="butt"/>
<line x1="900.25" y1="881" x2="900.25" y2="870" stroke="#777" stroke-width="1.6" stroke-linecap="butt"/>
<line x1="900.25" y1="46.7" x2="900.25" y2="58.7" stroke="#777" stroke-width="1.6" stroke-linecap="butt"/>
<line x1="933.73" y1="881" x2="933.73" y2="870" stroke="#777" stroke-width="1.6" stroke-linecap="butt"/>
<line x1="933.73" y1="46.7" x2="933.73" y2="58.7" stroke="#777" stroke-width="1.6" stroke-linecap="butt"/>
<line x1="967.22" y1="881" x2="967.22" y2="870" stroke="#777" stroke-width="1.6" stroke-linecap="butt"/>
<line x1="967.22" y1="46.7" x2="967.22" y2="58.7" stroke="#777" stroke-width="1.6" stroke-linecap="butt"/>
<line x1="1000.7" y1="881" x2="1000.7" y2="862" stroke="#000" stroke-width="4" />
<line x1="1000.7" y1="46.7" x2="1000.7" y2="66.7" stroke="#000" stroke-width="4" />
<line x1="1034.18" y1="881" x2="1034.18" y2="870" stroke="#777" stroke-width="1.6" stroke-linecap="butt"/>
<line x1="1034.18" y1="46.7" x2="1034.18" y2="58.7" stroke="#777" stroke-width="1.6" stroke-linecap="butt"/>
<line x1="1067.67" y1="881" x2="1067.67" y2="870" stroke="#777" stroke-width="1.6" stroke-linecap="butt"/>
<line x1="1067.67" y1="46.7" x2="1067.67" y2="58.7" stroke="#777" stroke-width="1.6" stroke-linecap="butt"/>
<line x1="163.4" y1="843.8" x2="185.4" y2="843.8" stroke="#000" stroke-width="4" />
<line x1="1082.7" y1="843.8" x2="1060.7" y2="843.8" stroke="#000" stroke-width="4" />
<line x1="163.4" y1="805.84" x2="174.4" y2="805.84" stroke="#777" stroke-width="1.6" stroke-linecap="butt"/>
<line x1="1082.7" y1="805.84" x2="1071.7" y2="805.84" stroke="#777" stroke-width="1.6" stroke-linecap="butt"/>
<line x1="163.4" y1="767.88" x2="174.4" y2="767.88" stroke="#777" stroke-width="1.6" stroke-linecap="butt"/>
<line x1="1082.7" y1="767.88" x2="1071.7" y2="767.88" stroke="#777" stroke-width="1.6" stroke-linecap="butt"/>
<line x1="163.4" y1="729.92" x2="174.4" y2="729.92" stroke="#777" stroke-width="1.6" stroke-linecap="butt"/>
<line x1="1082.7" y1="729.92" x2="1071.7" y2="729.92" stroke="#777" stroke-width="1.6" stroke-linecap="butt"/>
<line x1="163.4" y1="691.96" x2="185.4" y2="691.96" stroke="#000" stroke-width="4" />
<line x1="1082.7" y1="691.96" x2="1060.7" y2="691.96" stroke="#000" stroke-width="4" />
<line x1="163.4" y1="654" x2="174.4" y2="654" stroke="#777" stroke-width="1.6" stroke-linecap="butt"/>
<line x1="1082.7" y1="654" x2="1071.7" y2="654" stroke="#777" stroke-width="1.6" stroke-linecap="butt"/>
<line x1="163.4" y1="616.04" x2="174.4" y2="616.04" stroke="#777" stroke-width="1.6" stroke-linecap="butt"/>
<line x1="1082.7" y1="616.04" x2="1071.7" y2="616.04" stroke="#777" stroke-width="1.6" stroke-linecap="butt"/>
<line x1="163.4" y1="578.08" x2="174.4" y2="578.08" stroke="#777" stroke-width="1.6" stroke-linecap="butt"/>
<line x1="1082.7" y1="578.08" x2="1071.7" y2="578.08" stroke="#777" stroke-width="1.6" stroke-linecap="butt"/>
<line x1="163.4" y1="540.12" x2="185.4" y2="540.12" stroke="#000" stroke-width="4" />
<line x1="1082.7" y1="540.12" x2="1060.7" y2="540.12" stroke="#000" stroke-width="4" />
<line x1="163.4" y1="502.16" x2="174.4" y2="502.16" stroke="#777" stroke-width="1.6" stroke-linecap="butt"/>
<line x1="1082.7" y1="502.16" x2="1071.7" y2="502.16" stroke="#777" stroke-width="1.6" stroke-linecap="butt"/>
<line x1="163.4" y1="464.2" x2="174.4" y2="464.2" stroke="#777" stroke-width="1.6" stroke-linecap="butt"/>
<line x1="1082.7" y1="464.2" x2="1071.7" y2="464.2" stroke="#777" stroke-width="1.6" stroke-linecap="butt"/>
<line x1="163.4" y1="426.24" x2="174.4" y2="426.24" stroke="#777" stroke-width="1.6" stroke-linecap="butt"/>
<line x1="1082.7" y1="426.24" x2="1071.7" y2="426.24" stroke="#777" stroke-width="1.6" stroke-linecap="butt"/>
<line x1="163.4" y1="388.28" x2="185.4" y2="388.28" stroke="#000" stroke-width="4" />
<line x1="1082.7" y1="388.28" x2="1060.7" y2="388.28" stroke="#000" stroke-width="4" />
<line x1="163.4" y1="350.32" x2="174.4" y2="350.32" stroke="#777" stroke-width="1.6" stroke-linecap="butt"/>
<line x1="1082.7" y1="350.32" x2="1071.7" y2="350.32" stroke="#777" stroke-width="1.6" stroke-linecap="butt"/>
<line x1="163.4" y1="312.36" x2="174.4" y2="312.36" stroke="#777" stroke-width="1.6" stroke-linecap="butt"/>
<line x1="1082.7" y1="312.36" x2="1071.7" y2="312.36" stroke="#777" stroke-width="1.6" stroke-linecap="butt"/>
<line x1="163.4" y1="274.4" x2="174.4" y2="274.4" stroke="#777" stroke-width="1.6" stroke-linecap="butt"/>
<line x1="1082.7" y1="274.4" x2="1071.7" y2="274.4" stroke="#777" stroke-width="1.6" stroke-linecap="butt"/>
<line x1="163.4" y1="236.44" x2="185.4" y2="236.44" stroke="#000" stroke-width="4" />
<line x1="1082.7" y1="236.44" x2="1060.7" y2="236.44" stroke="#000" stroke-width="4" />
<line x1="163.4" y1="198.48" x2="174.4" y2="198.48" stroke="#777" stroke-width="1.6" stroke-linecap="butt"/>
<line x1="1082.7" y1="198.48" x2="1071.7" y2="198.48" stroke="#777" stroke-width="1.6" stroke-linecap="butt"/>
<line x1="163.4" y1="160.52" x2="174.4" y2="160.52" stroke="#777" stroke-width="1.6" stroke-linecap="butt"/>
<line x1="1082.7" y1="160.52" x2="1071.7" y2="160.52" stroke="#777" stroke-width="1.6" stroke-linecap="butt"/>
<line x1="163.4" y1="122.56" x2="174.4" y2="122.56" stroke="#777" stroke-width="1.6" stroke-linecap="butt"/>
<line x1="1082.7" y1="122.56" x2="1071.7" y2="122.56" stroke="#777" stroke-width="1.6" stroke-linecap="butt"/>
<line x1="163.4" y1="84.6" x2="185.4" y2="84.6" stroke="#000" stroke-width="4" />
<line x1="1082.7" y1="84.6" x2="1060.7" y2="84.6" stroke="#000" stroke-width="4" />
</g>
<path d="M163.4,46.7 H1082.7 V881 H163.4 Z" fill="none" stroke="#000" stroke-width="4"/>
<line x1="161.4" y1="881" x2="1084.7" y2="881" stroke="#000" stroke-width="5.2" />
<text x="164.1" y="929.3" font-size="54" text-anchor="middle" letter-spacing="2.6" dx="1.3">0</text>
<text x="331.52" y="929.3" font-size="54" text-anchor="middle" letter-spacing="2.6" dx="1.3">20</text>
<text x="498.94" y="929.3" font-size="54" text-anchor="middle" letter-spacing="2.6" dx="1.3">40</text>
<text x="666.36" y="929.3" font-size="54" text-anchor="middle" letter-spacing="2.6" dx="1.3">60</text>
<text x="833.78" y="929.3" font-size="54" text-anchor="middle" letter-spacing="2.6" dx="1.3">80</text>
<text x="1001.2" y="929.3" font-size="54" text-anchor="middle" letter-spacing="2.6" dx="1.3">100</text>
<text x="151.5" y="862.1" font-size="54" text-anchor="end" letter-spacing="2.0">0</text>
<text x="151.5" y="710.26" font-size="54" text-anchor="end" letter-spacing="2.0">0.2</text>
<text x="151.5" y="558.42" font-size="54" text-anchor="end" letter-spacing="2.0">0.4</text>
<text x="151.5" y="406.58" font-size="54" text-anchor="end" letter-spacing="2.0">0.6</text>
<text x="151.5" y="254.74" font-size="54" text-anchor="end" letter-spacing="2.0">0.8</text>
<text x="151.5" y="102.9" font-size="54" text-anchor="end" letter-spacing="2.0">1</text>
<text x="619.8" y="973.4" font-size="56.3" text-anchor="middle" letter-spacing="0.4" dx="0.2">Time (ms)</text>
<text x="66.5" y="499.3" font-size="56.3" text-anchor="middle" transform="rotate(-90 66.5 499.3)">Normalized Cumulative Heat Release</text>
<line x1="781.9" y1="434.5" x2="697" y2="350.5" stroke="#000" stroke-width="1.7" />
<polygon points="687.2,341 703.7,349.5 695.4,357.5" fill="#000"/>
<text x="892.2" y="469.5" font-size="45.5" text-anchor="middle" letter-spacing="0.4">Increasing</text>
<text x="892" y="524" font-size="45.5" text-anchor="middle" letter-spacing="0.15">Ignition Energy</text>
<text x="891.5" y="578.4" font-size="45.5" text-anchor="middle" letter-spacing="0">(2.4 mJ ÷ 58 mJ)</text>
<text x="1059" y="153" font-size="55" text-anchor="end" letter-spacing="1.5">(a)</text>
<text x="874.9" y="779" font-size="45.5" text-anchor="middle">50%CH<tspan font-size="29" dy="6">4</tspan><tspan dy="-6"> + 50%H</tspan><tspan font-size="29" dy="6">2</tspan></text>
<text x="858.2" y="828" font-size="47" text-anchor="middle"><tspan font-style="italic" font-weight="normal">ϕ</tspan> = 0.8</text>
<line x1="175.5" y1="662.6" x2="536.6" y2="662.6" stroke="#808080" stroke-width="2" />
<polygon points="161.5,662.6 180.5,656.6 180.5,668.6" fill="#808080"/>
<polygon points="550.6,662.6 531.6,656.6 531.6,668.6" fill="#808080"/>
<line x1="180.3" y1="742" x2="482.8" y2="742" stroke="#808080" stroke-width="2" />
<polygon points="166.3,742 185.3,736 185.3,748" fill="#808080"/>
<polygon points="496.8,742 477.8,736 477.8,748" fill="#808080"/>
<text x="239.5" y="647.8" font-size="37.5"><tspan font-style="italic">t</tspan><tspan font-size="24.5" dy="5.4">delay</tspan><tspan dy="-5.4"> = 46.5 ms</tspan></text>
<text x="245.8" y="727" font-size="37.5"><tspan font-style="italic">t</tspan><tspan font-size="24.5" dy="5.4">delay</tspan><tspan dy="-5.4"> = 40.5 ms</tspan></text>
<line x1="165.4" y1="767" x2="626.9" y2="767" stroke="#555" stroke-width="1.8" stroke-dasharray="14.4 8.2" stroke-dashoffset="5.1"/>
<line x1="498.8" y1="879" x2="498.8" y2="713.5" stroke="#555" stroke-width="1.8" stroke-dasharray="14.4 8.2" stroke-dashoffset="6.7"/>
<line x1="550.3" y1="879" x2="550.3" y2="628" stroke="#555" stroke-width="1.8" stroke-dasharray="14.4 8.2"/>
<rect x="1282" y="95.2" width="22" height="22" fill="#555" stroke="#333" stroke-width="1"/>
<rect x="1319" y="155" width="22" height="22" fill="#555" stroke="#333" stroke-width="1"/>
<rect x="1389.4" y="214.7" width="22" height="22" fill="#555" stroke="#333" stroke-width="1"/>
<rect x="1515.5" y="441.3" width="22" height="22" fill="#555" stroke="#333" stroke-width="1"/>
<rect x="1601.5" y="680" width="22" height="22" fill="#555" stroke="#333" stroke-width="1"/>
<rect x="1920.8" y="751.4" width="22" height="22" fill="#555" stroke="#333" stroke-width="1"/>
<rect x="1945.6" y="751.4" width="22" height="22" fill="#555" stroke="#333" stroke-width="1"/>
<rect x="1982" y="775.3" width="22" height="22" fill="#555" stroke="#333" stroke-width="1"/>
<rect x="2031.3" y="798.9" width="22" height="22" fill="#555" stroke="#333" stroke-width="1"/>
<rect x="2142.2" y="811" width="22" height="22" fill="#555" stroke="#333" stroke-width="1"/>
<line x1="1287.2" y1="59.4" x2="1643.2" y2="721.9" stroke="#000" stroke-width="2.5" />
<line x1="1582.5" y1="683.6" x2="2174.5" y2="828.2" stroke="#000" stroke-width="2.5" />
<line x1="1626.7" y1="626" x2="1626.7" y2="878.7" stroke="#555" stroke-width="1.8" stroke-dasharray="14.4 8.2"/>
<g stroke="#000" stroke-linecap="round">
<line x1="1256.6" y1="880.7" x2="1256.6" y2="861.7" stroke="#000" stroke-width="4" />
<line x1="1256.6" y1="47.1" x2="1256.6" y2="67.1" stroke="#000" stroke-width="4" />
<line x1="1287.29" y1="880.7" x2="1287.29" y2="869.7" stroke="#777" stroke-width="1.6" stroke-linecap="butt"/>
<line x1="1287.29" y1="47.1" x2="1287.29" y2="59.1" stroke="#777" stroke-width="1.6" stroke-linecap="butt"/>
<line x1="1317.98" y1="880.7" x2="1317.98" y2="869.7" stroke="#777" stroke-width="1.6" stroke-linecap="butt"/>
<line x1="1317.98" y1="47.1" x2="1317.98" y2="59.1" stroke="#777" stroke-width="1.6" stroke-linecap="butt"/>
<line x1="1348.67" y1="880.7" x2="1348.67" y2="869.7" stroke="#777" stroke-width="1.6" stroke-linecap="butt"/>
<line x1="1348.67" y1="47.1" x2="1348.67" y2="59.1" stroke="#777" stroke-width="1.6" stroke-linecap="butt"/>
<line x1="1379.36" y1="880.7" x2="1379.36" y2="869.7" stroke="#777" stroke-width="1.6" stroke-linecap="butt"/>
<line x1="1379.36" y1="47.1" x2="1379.36" y2="59.1" stroke="#777" stroke-width="1.6" stroke-linecap="butt"/>
<line x1="1410.05" y1="880.7" x2="1410.05" y2="861.7" stroke="#000" stroke-width="4" />
<line x1="1410.05" y1="47.1" x2="1410.05" y2="67.1" stroke="#000" stroke-width="4" />
<line x1="1440.74" y1="880.7" x2="1440.74" y2="869.7" stroke="#777" stroke-width="1.6" stroke-linecap="butt"/>
<line x1="1440.74" y1="47.1" x2="1440.74" y2="59.1" stroke="#777" stroke-width="1.6" stroke-linecap="butt"/>
<line x1="1471.43" y1="880.7" x2="1471.43" y2="869.7" stroke="#777" stroke-width="1.6" stroke-linecap="butt"/>
<line x1="1471.43" y1="47.1" x2="1471.43" y2="59.1" stroke="#777" stroke-width="1.6" stroke-linecap="butt"/>
<line x1="1502.12" y1="880.7" x2="1502.12" y2="869.7" stroke="#777" stroke-width="1.6" stroke-linecap="butt"/>
<line x1="1502.12" y1="47.1" x2="1502.12" y2="59.1" stroke="#777" stroke-width="1.6" stroke-linecap="butt"/>
<line x1="1532.81" y1="880.7" x2="1532.81" y2="869.7" stroke="#777" stroke-width="1.6" stroke-linecap="butt"/>
<line x1="1532.81" y1="47.1" x2="1532.81" y2="59.1" stroke="#777" stroke-width="1.6" stroke-linecap="butt"/>
<line x1="1563.5" y1="880.7" x2="1563.5" y2="861.7" stroke="#000" stroke-width="4" />
<line x1="1563.5" y1="47.1" x2="1563.5" y2="67.1" stroke="#000" stroke-width="4" />
<line x1="1594.19" y1="880.7" x2="1594.19" y2="869.7" stroke="#777" stroke-width="1.6" stroke-linecap="butt"/>
<line x1="1594.19" y1="47.1" x2="1594.19" y2="59.1" stroke="#777" stroke-width="1.6" stroke-linecap="butt"/>
<line x1="1624.88" y1="880.7" x2="1624.88" y2="869.7" stroke="#777" stroke-width="1.6" stroke-linecap="butt"/>
<line x1="1624.88" y1="47.1" x2="1624.88" y2="59.1" stroke="#777" stroke-width="1.6" stroke-linecap="butt"/>
<line x1="1655.57" y1="880.7" x2="1655.57" y2="869.7" stroke="#777" stroke-width="1.6" stroke-linecap="butt"/>
<line x1="1655.57" y1="47.1" x2="1655.57" y2="59.1" stroke="#777" stroke-width="1.6" stroke-linecap="butt"/>
<line x1="1686.26" y1="880.7" x2="1686.26" y2="869.7" stroke="#777" stroke-width="1.6" stroke-linecap="butt"/>
<line x1="1686.26" y1="47.1" x2="1686.26" y2="59.1" stroke="#777" stroke-width="1.6" stroke-linecap="butt"/>
<line x1="1716.95" y1="880.7" x2="1716.95" y2="861.7" stroke="#000" stroke-width="4" />
<line x1="1716.95" y1="47.1" x2="1716.95" y2="67.1" stroke="#000" stroke-width="4" />
<line x1="1747.64" y1="880.7" x2="1747.64" y2="869.7" stroke="#777" stroke-width="1.6" stroke-linecap="butt"/>
<line x1="1747.64" y1="47.1" x2="1747.64" y2="59.1" stroke="#777" stroke-width="1.6" stroke-linecap="butt"/>
<line x1="1778.33" y1="880.7" x2="1778.33" y2="869.7" stroke="#777" stroke-width="1.6" stroke-linecap="butt"/>
<line x1="1778.33" y1="47.1" x2="1778.33" y2="59.1" stroke="#777" stroke-width="1.6" stroke-linecap="butt"/>
<line x1="1809.02" y1="880.7" x2="1809.02" y2="869.7" stroke="#777" stroke-width="1.6" stroke-linecap="butt"/>
<line x1="1809.02" y1="47.1" x2="1809.02" y2="59.1" stroke="#777" stroke-width="1.6" stroke-linecap="butt"/>
<line x1="1839.71" y1="880.7" x2="1839.71" y2="869.7" stroke="#777" stroke-width="1.6" stroke-linecap="butt"/>
<line x1="1839.71" y1="47.1" x2="1839.71" y2="59.1" stroke="#777" stroke-width="1.6" stroke-linecap="butt"/>
<line x1="1870.4" y1="880.7" x2="1870.4" y2="861.7" stroke="#000" stroke-width="4" />
<line x1="1870.4" y1="47.1" x2="1870.4" y2="67.1" stroke="#000" stroke-width="4" />
<line x1="1901.09" y1="880.7" x2="1901.09" y2="869.7" stroke="#777" stroke-width="1.6" stroke-linecap="butt"/>
<line x1="1901.09" y1="47.1" x2="1901.09" y2="59.1" stroke="#777" stroke-width="1.6" stroke-linecap="butt"/>
<line x1="1931.78" y1="880.7" x2="1931.78" y2="869.7" stroke="#777" stroke-width="1.6" stroke-linecap="butt"/>
<line x1="1931.78" y1="47.1" x2="1931.78" y2="59.1" stroke="#777" stroke-width="1.6" stroke-linecap="butt"/>
<line x1="1962.47" y1="880.7" x2="1962.47" y2="869.7" stroke="#777" stroke-width="1.6" stroke-linecap="butt"/>
<line x1="1962.47" y1="47.1" x2="1962.47" y2="59.1" stroke="#777" stroke-width="1.6" stroke-linecap="butt"/>
<line x1="1993.16" y1="880.7" x2="1993.16" y2="869.7" stroke="#777" stroke-width="1.6" stroke-linecap="butt"/>
<line x1="1993.16" y1="47.1" x2="1993.16" y2="59.1" stroke="#777" stroke-width="1.6" stroke-linecap="butt"/>
<line x1="2023.85" y1="880.7" x2="2023.85" y2="861.7" stroke="#000" stroke-width="4" />
<line x1="2023.85" y1="47.1" x2="2023.85" y2="67.1" stroke="#000" stroke-width="4" />
<line x1="2054.54" y1="880.7" x2="2054.54" y2="869.7" stroke="#777" stroke-width="1.6" stroke-linecap="butt"/>
<line x1="2054.54" y1="47.1" x2="2054.54" y2="59.1" stroke="#777" stroke-width="1.6" stroke-linecap="butt"/>
<line x1="2085.23" y1="880.7" x2="2085.23" y2="869.7" stroke="#777" stroke-width="1.6" stroke-linecap="butt"/>
<line x1="2085.23" y1="47.1" x2="2085.23" y2="59.1" stroke="#777" stroke-width="1.6" stroke-linecap="butt"/>
<line x1="2115.92" y1="880.7" x2="2115.92" y2="869.7" stroke="#777" stroke-width="1.6" stroke-linecap="butt"/>
<line x1="2115.92" y1="47.1" x2="2115.92" y2="59.1" stroke="#777" stroke-width="1.6" stroke-linecap="butt"/>
<line x1="2146.61" y1="880.7" x2="2146.61" y2="869.7" stroke="#777" stroke-width="1.6" stroke-linecap="butt"/>
<line x1="2146.61" y1="47.1" x2="2146.61" y2="59.1" stroke="#777" stroke-width="1.6" stroke-linecap="butt"/>
<line x1="2177.3" y1="880.7" x2="2177.3" y2="861.7" stroke="#000" stroke-width="4" />
<line x1="2177.3" y1="47.1" x2="2177.3" y2="67.1" stroke="#000" stroke-width="4" />
<line x1="1256.7" y1="880.66" x2="1278.7" y2="880.66" stroke="#000" stroke-width="4" />
<line x1="2177.1" y1="880.66" x2="2155.1" y2="880.66" stroke="#000" stroke-width="4" />
<line x1="1256.7" y1="856.84" x2="1267.7" y2="856.84" stroke="#777" stroke-width="1.6" stroke-linecap="butt"/>
<line x1="2177.1" y1="856.84" x2="2166.1" y2="856.84" stroke="#777" stroke-width="1.6" stroke-linecap="butt"/>
<line x1="1256.7" y1="833.03" x2="1267.7" y2="833.03" stroke="#777" stroke-width="1.6" stroke-linecap="butt"/>
<line x1="2177.1" y1="833.03" x2="2166.1" y2="833.03" stroke="#777" stroke-width="1.6" stroke-linecap="butt"/>
<line x1="1256.7" y1="809.21" x2="1267.7" y2="809.21" stroke="#777" stroke-width="1.6" stroke-linecap="butt"/>
<line x1="2177.1" y1="809.21" x2="2166.1" y2="809.21" stroke="#777" stroke-width="1.6" stroke-linecap="butt"/>
<line x1="1256.7" y1="785.4" x2="1267.7" y2="785.4" stroke="#777" stroke-width="1.6" stroke-linecap="butt"/>
<line x1="2177.1" y1="785.4" x2="2166.1" y2="785.4" stroke="#777" stroke-width="1.6" stroke-linecap="butt"/>
<line x1="1256.7" y1="761.58" x2="1278.7" y2="761.58" stroke="#000" stroke-width="4" />
<line x1="2177.1" y1="761.58" x2="2155.1" y2="761.58" stroke="#000" stroke-width="4" />
<line x1="1256.7" y1="737.76" x2="1267.7" y2="737.76" stroke="#777" stroke-width="1.6" stroke-linecap="butt"/>
<line x1="2177.1" y1="737.76" x2="2166.1" y2="737.76" stroke="#777" stroke-width="1.6" stroke-linecap="butt"/>
<line x1="1256.7" y1="713.95" x2="1267.7" y2="713.95" stroke="#777" stroke-width="1.6" stroke-linecap="butt"/>
<line x1="2177.1" y1="713.95" x2="2166.1" y2="713.95" stroke="#777" stroke-width="1.6" stroke-linecap="butt"/>
<line x1="1256.7" y1="690.13" x2="1267.7" y2="690.13" stroke="#777" stroke-width="1.6" stroke-linecap="butt"/>
<line x1="2177.1" y1="690.13" x2="2166.1" y2="690.13" stroke="#777" stroke-width="1.6" stroke-linecap="butt"/>
<line x1="1256.7" y1="666.32" x2="1267.7" y2="666.32" stroke="#777" stroke-width="1.6" stroke-linecap="butt"/>
<line x1="2177.1" y1="666.32" x2="2166.1" y2="666.32" stroke="#777" stroke-width="1.6" stroke-linecap="butt"/>
<line x1="1256.7" y1="642.5" x2="1278.7" y2="642.5" stroke="#000" stroke-width="4" />
<line x1="2177.1" y1="642.5" x2="2155.1" y2="642.5" stroke="#000" stroke-width="4" />
<line x1="1256.7" y1="618.68" x2="1267.7" y2="618.68" stroke="#777" stroke-width="1.6" stroke-linecap="butt"/>
<line x1="2177.1" y1="618.68" x2="2166.1" y2="618.68" stroke="#777" stroke-width="1.6" stroke-linecap="butt"/>
<line x1="1256.7" y1="594.87" x2="1267.7" y2="594.87" stroke="#777" stroke-width="1.6" stroke-linecap="butt"/>
<line x1="2177.1" y1="594.87" x2="2166.1" y2="594.87" stroke="#777" stroke-width="1.6" stroke-linecap="butt"/>
<line x1="1256.7" y1="571.05" x2="1267.7" y2="571.05" stroke="#777" stroke-width="1.6" stroke-linecap="butt"/>
<line x1="2177.1" y1="571.05" x2="2166.1" y2="571.05" stroke="#777" stroke-width="1.6" stroke-linecap="butt"/>
<line x1="1256.7" y1="547.24" x2="1267.7" y2="547.24" stroke="#777" stroke-width="1.6" stroke-linecap="butt"/>
<line x1="2177.1" y1="547.24" x2="2166.1" y2="547.24" stroke="#777" stroke-width="1.6" stroke-linecap="butt"/>
<line x1="1256.7" y1="523.42" x2="1278.7" y2="523.42" stroke="#000" stroke-width="4" />
<line x1="2177.1" y1="523.42" x2="2155.1" y2="523.42" stroke="#000" stroke-width="4" />
<line x1="1256.7" y1="499.6" x2="1267.7" y2="499.6" stroke="#777" stroke-width="1.6" stroke-linecap="butt"/>
<line x1="2177.1" y1="499.6" x2="2166.1" y2="499.6" stroke="#777" stroke-width="1.6" stroke-linecap="butt"/>
<line x1="1256.7" y1="475.79" x2="1267.7" y2="475.79" stroke="#777" stroke-width="1.6" stroke-linecap="butt"/>
<line x1="2177.1" y1="475.79" x2="2166.1" y2="475.79" stroke="#777" stroke-width="1.6" stroke-linecap="butt"/>
<line x1="1256.7" y1="451.97" x2="1267.7" y2="451.97" stroke="#777" stroke-width="1.6" stroke-linecap="butt"/>
<line x1="2177.1" y1="451.97" x2="2166.1" y2="451.97" stroke="#777" stroke-width="1.6" stroke-linecap="butt"/>
<line x1="1256.7" y1="428.16" x2="1267.7" y2="428.16" stroke="#777" stroke-width="1.6" stroke-linecap="butt"/>
<line x1="2177.1" y1="428.16" x2="2166.1" y2="428.16" stroke="#777" stroke-width="1.6" stroke-linecap="butt"/>
<line x1="1256.7" y1="404.34" x2="1278.7" y2="404.34" stroke="#000" stroke-width="4" />
<line x1="2177.1" y1="404.34" x2="2155.1" y2="404.34" stroke="#000" stroke-width="4" />
<line x1="1256.7" y1="380.52" x2="1267.7" y2="380.52" stroke="#777" stroke-width="1.6" stroke-linecap="butt"/>
<line x1="2177.1" y1="380.52" x2="2166.1" y2="380.52" stroke="#777" stroke-width="1.6" stroke-linecap="butt"/>
<line x1="1256.7" y1="356.71" x2="1267.7" y2="356.71" stroke="#777" stroke-width="1.6" stroke-linecap="butt"/>
<line x1="2177.1" y1="356.71" x2="2166.1" y2="356.71" stroke="#777" stroke-width="1.6" stroke-linecap="butt"/>
<line x1="1256.7" y1="332.89" x2="1267.7" y2="332.89" stroke="#777" stroke-width="1.6" stroke-linecap="butt"/>
<line x1="2177.1" y1="332.89" x2="2166.1" y2="332.89" stroke="#777" stroke-width="1.6" stroke-linecap="butt"/>
<line x1="1256.7" y1="309.08" x2="1267.7" y2="309.08" stroke="#777" stroke-width="1.6" stroke-linecap="butt"/>
<line x1="2177.1" y1="309.08" x2="2166.1" y2="309.08" stroke="#777" stroke-width="1.6" stroke-linecap="butt"/>
<line x1="1256.7" y1="285.26" x2="1278.7" y2="285.26" stroke="#000" stroke-width="4" />
<line x1="2177.1" y1="285.26" x2="2155.1" y2="285.26" stroke="#000" stroke-width="4" />
<line x1="1256.7" y1="261.44" x2="1267.7" y2="261.44" stroke="#777" stroke-width="1.6" stroke-linecap="butt"/>
<line x1="2177.1" y1="261.44" x2="2166.1" y2="261.44" stroke="#777" stroke-width="1.6" stroke-linecap="butt"/>
<line x1="1256.7" y1="237.63" x2="1267.7" y2="237.63" stroke="#777" stroke-width="1.6" stroke-linecap="butt"/>
<line x1="2177.1" y1="237.63" x2="2166.1" y2="237.63" stroke="#777" stroke-width="1.6" stroke-linecap="butt"/>
<line x1="1256.7" y1="213.81" x2="1267.7" y2="213.81" stroke="#777" stroke-width="1.6" stroke-linecap="butt"/>
<line x1="2177.1" y1="213.81" x2="2166.1" y2="213.81" stroke="#777" stroke-width="1.6" stroke-linecap="butt"/>
<line x1="1256.7" y1="190" x2="1267.7" y2="190" stroke="#777" stroke-width="1.6" stroke-linecap="butt"/>
<line x1="2177.1" y1="190" x2="2166.1" y2="190" stroke="#777" stroke-width="1.6" stroke-linecap="butt"/>
<line x1="1256.7" y1="166.18" x2="1278.7" y2="166.18" stroke="#000" stroke-width="4" />
<line x1="2177.1" y1="166.18" x2="2155.1" y2="166.18" stroke="#000" stroke-width="4" />
<line x1="1256.7" y1="142.36" x2="1267.7" y2="142.36" stroke="#777" stroke-width="1.6" stroke-linecap="butt"/>
<line x1="2177.1" y1="142.36" x2="2166.1" y2="142.36" stroke="#777" stroke-width="1.6" stroke-linecap="butt"/>
<line x1="1256.7" y1="118.55" x2="1267.7" y2="118.55" stroke="#777" stroke-width="1.6" stroke-linecap="butt"/>
<line x1="2177.1" y1="118.55" x2="2166.1" y2="118.55" stroke="#777" stroke-width="1.6" stroke-linecap="butt"/>
<line x1="1256.7" y1="94.73" x2="1267.7" y2="94.73" stroke="#777" stroke-width="1.6" stroke-linecap="butt"/>
<line x1="2177.1" y1="94.73" x2="2166.1" y2="94.73" stroke="#777" stroke-width="1.6" stroke-linecap="butt"/>
<line x1="1256.7" y1="70.92" x2="1267.7" y2="70.92" stroke="#777" stroke-width="1.6" stroke-linecap="butt"/>
<line x1="2177.1" y1="70.92" x2="2166.1" y2="70.92" stroke="#777" stroke-width="1.6" stroke-linecap="butt"/>
<line x1="1256.7" y1="47.1" x2="1278.7" y2="47.1" stroke="#000" stroke-width="4" />
<line x1="2177.1" y1="47.1" x2="2155.1" y2="47.1" stroke="#000" stroke-width="4" />
</g>
<path d="M1256.7,47.1 H2177.1 V880.7 H1256.7 Z" fill="none" stroke="#000" stroke-width="4"/>
<line x1="1254.7" y1="880.7" x2="2179.1" y2="880.7" stroke="#000" stroke-width="5.2" />
<text x="1255.6" y="929.5" font-size="54" text-anchor="middle" letter-spacing="2.6" dx="1.3">0</text>
<text x="1409.05" y="929.5" font-size="54" text-anchor="middle" letter-spacing="2.6" dx="1.3">10</text>
<text x="1562.5" y="929.5" font-size="54" text-anchor="middle" letter-spacing="2.6" dx="1.3">20</text>
<text x="1715.95" y="929.5" font-size="54" text-anchor="middle" letter-spacing="2.6" dx="1.3">30</text>
<text x="1869.4" y="929.5" font-size="54" text-anchor="middle" letter-spacing="2.6" dx="1.3">40</text>
<text x="2022.85" y="929.5" font-size="54" text-anchor="middle" letter-spacing="2.6" dx="1.3">50</text>
<text x="2176.3" y="929.5" font-size="54" text-anchor="middle" letter-spacing="2.6" dx="1.3">60</text>
<text x="1244" y="898.96" font-size="54" text-anchor="end" letter-spacing="2.0">40</text>
<text x="1244" y="779.88" font-size="54" text-anchor="end" letter-spacing="2.0">41</text>
<text x="1244" y="660.8" font-size="54" text-anchor="end" letter-spacing="2.0">42</text>
<text x="1244" y="541.72" font-size="54" text-anchor="end" letter-spacing="2.0">43</text>
<text x="1244" y="422.64" font-size="54" text-anchor="end" letter-spacing="2.0">44</text>
<text x="1244" y="303.56" font-size="54" text-anchor="end" letter-spacing="2.0">45</text>
<text x="1244" y="184.48" font-size="54" text-anchor="end" letter-spacing="2.0">46</text>
<text x="1244" y="65.4" font-size="54" text-anchor="end" letter-spacing="2.0">47</text>
<text x="2147.7" y="153.5" font-size="55" text-anchor="end" letter-spacing="1.8">(b)</text>
<text x="1606" y="608.8" font-size="45"><tspan font-style="italic">t</tspan><tspan font-size="30" dy="6.3">delay</tspan><tspan dy="-6.3" dx="0.5"> transition</tspan></text>
<text x="1712.2" y="982" font-size="55" text-anchor="middle" letter-spacing="1">Ignition Energy, E<tspan font-size="36" dy="7">ig</tspan><tspan dy="-7"> (mJ)</tspan></text>
<text x="1160" y="459.8" font-size="56.3" text-anchor="middle" transform="rotate(-90 1160 459.8)">Ignition Delay Time, <tspan font-style="italic">t</tspan><tspan font-size="37" dy="7">delay</tspan><tspan dy="-7"> (ms)</tspan></text>
</svg>
</body></html>
